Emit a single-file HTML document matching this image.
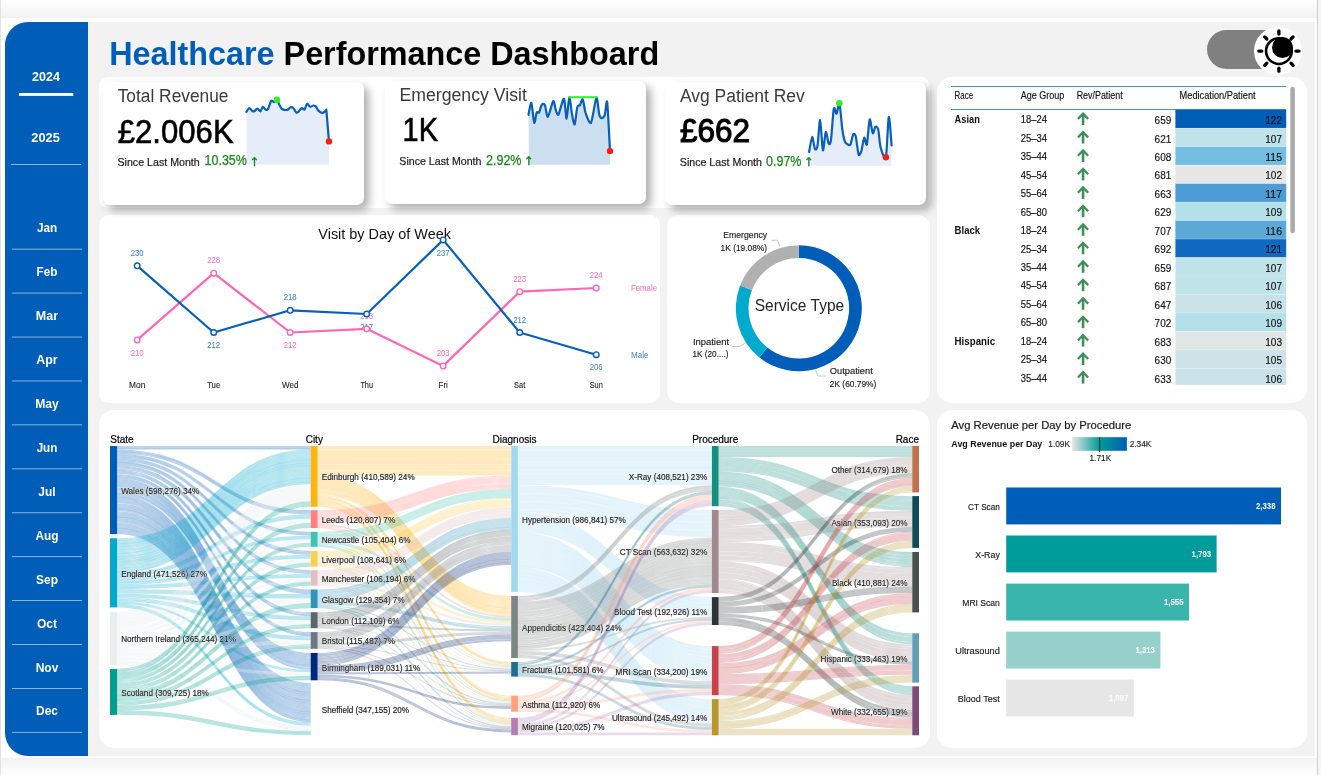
<!DOCTYPE html>
<html lang="en"><head><meta charset="utf-8"><title>Healthcare Performance Dashboard</title>
<style>
html,body{margin:0;padding:0;}
body{width:1321px;height:775px;overflow:hidden;position:relative;background:#fff;font-family:"Liberation Sans",sans-serif;}
.abs{position:absolute;}
#topband{left:0;top:0;width:1317px;height:18px;background:linear-gradient(#fefefe,#f2f2f2);}
#botband{left:0;top:757.8px;width:1317px;height:17.2px;background:linear-gradient(#f3f3f3,#fefefe);}
#leftline{left:0;top:0;width:1.3px;height:775px;background:#e2e2e2;}
#rightline{left:1317px;top:0;width:4px;height:775px;background:#f6f6f6;border-left:1.2px solid #cfcfcf;box-sizing:border-box;}
#canvas{left:4.6px;top:21.7px;width:1310.3px;height:734px;background:#f2f2f2;border-radius:23px 0 0 23px;}
#side{left:4.6px;top:21.7px;width:83.7px;height:734px;background:#005EB8;border-radius:23px 0 0 23px;}
.card{background:#fff;border-radius:15px;}
.kpi{background:#fff;border-radius:7px;box-shadow:5px 5px 9px rgba(0,0,0,.32);}
#pill{left:1207px;top:30px;width:80px;height:39px;border-radius:19.5px;background:#808080;}
#knob{left:1253.8px;top:27px;width:48px;height:48px;border-radius:24px;background:#fff;}
svg{position:absolute;left:0;top:0;}
text{font-family:"Liberation Sans",sans-serif;}
</style></head>
<body>

<div class="abs" id="topband"></div>
<div class="abs" id="botband"></div>
<div class="abs" id="leftline"></div>
<div class="abs" id="rightline"></div>
<div class="abs" id="canvas"></div>
<div class="abs" id="side"></div>
<div class="abs card" style="left:99.1px;top:76.8px;width:830.7px;height:131.2px;border-radius:9px;"></div>
<div class="abs card" style="left:99.1px;top:214.6px;width:561px;height:188.6px;border-radius:10px;"></div>
<div class="abs card" style="left:666.8px;top:214.6px;width:263.2px;height:188.6px;border-radius:12px;"></div>
<div class="abs card" style="left:99.1px;top:409.8px;width:830.9px;height:338px;"></div>
<div class="abs card" style="left:936.8px;top:76.8px;width:369.8px;height:326.4px;"></div>
<div class="abs card" style="left:936.8px;top:409.8px;width:369.8px;height:338px;"></div>
<div class="abs kpi" style="left:103px;top:81.8px;width:261px;height:123px;"></div>
<div class="abs kpi" style="left:385px;top:80.8px;width:261px;height:123px;"></div>
<div class="abs kpi" style="left:665px;top:81.6px;width:261.2px;height:123.2px;"></div>
<div class="abs" id="pill"></div>
<div class="abs" id="knob"></div>

<svg width="1321" height="775" viewBox="0 0 1321 775">
<text x="46" y="80.6" font-size="13" font-weight="700" text-anchor="middle" textLength="28" lengthAdjust="spacingAndGlyphs" fill="#fff">2024</text>
<rect x="19" y="93" width="54.3" height="2.9" fill="#fff"/>
<text x="45.6" y="141.6" font-size="13" font-weight="700" text-anchor="middle" textLength="28.5" lengthAdjust="spacingAndGlyphs" fill="#fff">2025</text>
<rect x="11" y="164.1" width="70" height="0.9" fill="#fff" opacity=".6"/>
<text x="47" y="232.4" font-size="13" font-weight="700" text-anchor="middle" textLength="20.2" lengthAdjust="spacingAndGlyphs" fill="#fff">Jan</text>
<rect x="12" y="248.7" width="70" height="0.9" fill="#fff" opacity=".6"/>
<text x="47" y="276.3" font-size="13" font-weight="700" text-anchor="middle" textLength="20.9" lengthAdjust="spacingAndGlyphs" fill="#fff">Feb</text>
<rect x="12" y="292.6" width="70" height="0.9" fill="#fff" opacity=".6"/>
<text x="47" y="320.2" font-size="13" font-weight="700" text-anchor="middle" textLength="22.3" lengthAdjust="spacingAndGlyphs" fill="#fff">Mar</text>
<rect x="12" y="336.6" width="70" height="0.9" fill="#fff" opacity=".6"/>
<text x="47" y="364.1" font-size="13" font-weight="700" text-anchor="middle" textLength="21.3" lengthAdjust="spacingAndGlyphs" fill="#fff">Apr</text>
<rect x="12" y="380.5" width="70" height="0.9" fill="#fff" opacity=".6"/>
<text x="47" y="408.0" font-size="13" font-weight="700" text-anchor="middle" textLength="23.6" lengthAdjust="spacingAndGlyphs" fill="#fff">May</text>
<rect x="12" y="424.4" width="70" height="0.9" fill="#fff" opacity=".6"/>
<text x="47" y="451.9" font-size="13" font-weight="700" text-anchor="middle" textLength="20.7" lengthAdjust="spacingAndGlyphs" fill="#fff">Jun</text>
<rect x="12" y="468.4" width="70" height="0.9" fill="#fff" opacity=".6"/>
<text x="47" y="495.9" font-size="13" font-weight="700" text-anchor="middle" textLength="17.3" lengthAdjust="spacingAndGlyphs" fill="#fff">Jul</text>
<rect x="12" y="512.3" width="70" height="0.9" fill="#fff" opacity=".6"/>
<text x="47" y="539.8" font-size="13" font-weight="700" text-anchor="middle" textLength="23" lengthAdjust="spacingAndGlyphs" fill="#fff">Aug</text>
<rect x="12" y="556.2" width="70" height="0.9" fill="#fff" opacity=".6"/>
<text x="47" y="583.7" font-size="13" font-weight="700" text-anchor="middle" textLength="21.9" lengthAdjust="spacingAndGlyphs" fill="#fff">Sep</text>
<rect x="12" y="600.1" width="70" height="0.9" fill="#fff" opacity=".6"/>
<text x="47" y="627.6" font-size="13" font-weight="700" text-anchor="middle" textLength="20" lengthAdjust="spacingAndGlyphs" fill="#fff">Oct</text>
<rect x="12" y="644.1" width="70" height="0.9" fill="#fff" opacity=".6"/>
<text x="47" y="671.5" font-size="13" font-weight="700" text-anchor="middle" textLength="22.6" lengthAdjust="spacingAndGlyphs" fill="#fff">Nov</text>
<rect x="12" y="688.0" width="70" height="0.9" fill="#fff" opacity=".6"/>
<text x="47" y="715.4" font-size="13" font-weight="700" text-anchor="middle" textLength="21.9" lengthAdjust="spacingAndGlyphs" fill="#fff">Dec</text>
<rect x="12" y="731.9" width="70" height="0.9" fill="#fff" opacity=".6"/>
<text x="109.2" y="64.7" font-size="33" font-weight="700" textLength="550" lengthAdjust="spacingAndGlyphs"><tspan fill="#005EB8">Healthcare</tspan><tspan fill="#000"> Performance Dashboard</tspan></text>
<g transform="translate(1278.9,51.1)"><circle r="12.85" fill="none" stroke="#000" stroke-width="2.6"/><circle cx="3.6" cy="-3.6" r="10.5" fill="#000"/><line x1="17.10" y1="0.00" x2="20.10" y2="0.00" stroke="#000" stroke-width="3.3" stroke-linecap="round"/><line x1="12.09" y1="12.09" x2="14.21" y2="14.21" stroke="#000" stroke-width="3.3" stroke-linecap="round"/><line x1="0.00" y1="17.10" x2="0.00" y2="20.10" stroke="#000" stroke-width="3.3" stroke-linecap="round"/><line x1="-12.09" y1="12.09" x2="-14.21" y2="14.21" stroke="#000" stroke-width="3.3" stroke-linecap="round"/><line x1="-17.10" y1="0.00" x2="-20.10" y2="0.00" stroke="#000" stroke-width="3.3" stroke-linecap="round"/><line x1="-12.09" y1="-12.09" x2="-14.21" y2="-14.21" stroke="#000" stroke-width="3.3" stroke-linecap="round"/><line x1="-0.00" y1="-17.10" x2="-0.00" y2="-20.10" stroke="#000" stroke-width="3.3" stroke-linecap="round"/><line x1="12.09" y1="-12.09" x2="14.21" y2="-14.21" stroke="#000" stroke-width="3.3" stroke-linecap="round"/></g>
<path d="M246.4,111.9C246.8,111.4 248.5,108.2 249.3,108.1C250.1,108.0 251.7,110.8 252.4,111.2C253.1,111.6 253.8,111.5 254.4,111.2C255.1,110.8 256.8,108.5 257.5,108.6C258.3,108.6 259.7,111.6 260.4,111.4C261.1,111.1 262.2,107.0 262.9,106.8C263.6,106.6 265.1,109.5 265.8,109.8C266.5,110.1 267.4,110.1 268.1,108.9C268.8,107.7 270.4,101.7 271.2,100.8C271.9,100.0 273.3,102.3 274.1,102.2C274.8,102.0 276.3,99.5 276.9,99.8C277.6,100.1 278.6,103.3 279.2,104.4C279.8,105.6 281.1,108.2 281.8,108.9C282.5,109.6 283.6,109.7 284.4,109.8C285.1,109.9 286.7,110.2 287.5,109.9C288.3,109.6 289.8,107.6 290.6,107.3C291.3,107.1 292.4,107.1 293.1,107.8C293.9,108.4 295.6,112.0 296.2,112.5C296.9,113.0 297.6,112.5 298.3,111.9C299.0,111.3 300.9,108.4 301.7,108.1C302.5,107.8 303.8,110.2 304.5,109.6C305.2,109.0 306.3,104.1 307.1,103.7C307.8,103.4 309.3,106.6 310.2,106.8C311.0,107.0 312.7,105.5 313.5,105.5C314.2,105.4 315.2,105.8 315.9,106.5C316.5,107.2 317.6,109.8 318.4,110.6C319.3,111.5 321.6,112.9 322.6,112.9C323.5,113.0 325.1,111.1 325.7,110.9C326.2,110.8 326.1,107.7 326.5,111.7C326.9,115.6 328.6,137.5 329.0,141.4L329.0,164.6L246.8,164.6Z" fill="#E5EDF8"/>
<path d="M246.4,111.9C246.8,111.4 248.5,108.2 249.3,108.1C250.1,108.0 251.7,110.8 252.4,111.2C253.1,111.6 253.8,111.5 254.4,111.2C255.1,110.8 256.8,108.5 257.5,108.6C258.3,108.6 259.7,111.6 260.4,111.4C261.1,111.1 262.2,107.0 262.9,106.8C263.6,106.6 265.1,109.5 265.8,109.8C266.5,110.1 267.4,110.1 268.1,108.9C268.8,107.7 270.4,101.7 271.2,100.8C271.9,100.0 273.3,102.3 274.1,102.2C274.8,102.0 276.3,99.5 276.9,99.8C277.6,100.1 278.6,103.3 279.2,104.4C279.8,105.6 281.1,108.2 281.8,108.9C282.5,109.6 283.6,109.7 284.4,109.8C285.1,109.9 286.7,110.2 287.5,109.9C288.3,109.6 289.8,107.6 290.6,107.3C291.3,107.1 292.4,107.1 293.1,107.8C293.9,108.4 295.6,112.0 296.2,112.5C296.9,113.0 297.6,112.5 298.3,111.9C299.0,111.3 300.9,108.4 301.7,108.1C302.5,107.8 303.8,110.2 304.5,109.6C305.2,109.0 306.3,104.1 307.1,103.7C307.8,103.4 309.3,106.6 310.2,106.8C311.0,107.0 312.7,105.5 313.5,105.5C314.2,105.4 315.2,105.8 315.9,106.5C316.5,107.2 317.6,109.8 318.4,110.6C319.3,111.5 321.6,112.9 322.6,112.9C323.5,113.0 325.1,111.1 325.7,110.9C326.2,110.8 326.1,107.7 326.5,111.7C326.9,115.6 328.6,137.5 329.0,141.4" fill="none" stroke="#075FB9" stroke-width="2.2" stroke-linejoin="round" stroke-linecap="round"/>
<circle cx="276.9" cy="99.8" r="3.2" fill="#33EE22"/>
<circle cx="329.0" cy="141.4" r="3.2" fill="#FF1A1A"/>
<path d="M528.5,114.8C528.8,113.2 530.6,101.9 531.4,102.9C532.1,103.9 533.5,121.6 534.2,122.8C534.9,124.1 536.1,113.8 536.7,112.5C537.3,111.2 538.4,113.5 539.1,112.5C539.7,111.5 540.9,106.0 541.7,105.0C542.4,103.9 544.0,103.1 544.8,104.7C545.6,106.2 546.8,117.3 547.9,116.8C549.0,116.4 552.2,101.9 553.2,101.1C554.3,100.4 555.4,109.4 556.1,111.2C556.8,112.9 557.7,115.5 558.4,114.8C559.1,114.0 560.5,107.5 561.3,105.5C562.0,103.4 563.5,97.4 564.2,99.1C564.9,100.8 566.0,118.9 566.6,118.7C567.3,118.5 568.6,97.9 569.3,97.4C570.0,96.9 571.4,111.3 572.1,114.8C572.8,118.3 574.0,125.4 574.7,124.4C575.4,123.4 576.6,109.5 577.3,107.0C577.9,104.5 579.1,106.3 579.9,105.3C580.6,104.3 582.0,98.3 582.7,99.3C583.5,100.3 584.5,109.6 585.5,112.7C586.6,115.8 589.6,124.8 591.0,122.8C592.4,120.9 595.3,98.8 596.4,97.7C597.4,96.7 598.6,111.9 599.3,114.6C600.0,117.2 601.0,118.0 601.7,118.1C602.5,118.1 604.1,116.8 604.8,114.8C605.5,112.7 606.5,97.7 607.2,102.4C607.9,107.1 609.6,144.8 610.0,151.1L610.0,164.8L529.0,164.8Z" fill="#CCDFF0"/>
<path d="M528.5,114.8C528.8,113.2 530.6,101.9 531.4,102.9C532.1,103.9 533.5,121.6 534.2,122.8C534.9,124.1 536.1,113.8 536.7,112.5C537.3,111.2 538.4,113.5 539.1,112.5C539.7,111.5 540.9,106.0 541.7,105.0C542.4,103.9 544.0,103.1 544.8,104.7C545.6,106.2 546.8,117.3 547.9,116.8C549.0,116.4 552.2,101.9 553.2,101.1C554.3,100.4 555.4,109.4 556.1,111.2C556.8,112.9 557.7,115.5 558.4,114.8C559.1,114.0 560.5,107.5 561.3,105.5C562.0,103.4 563.5,97.4 564.2,99.1C564.9,100.8 566.0,118.9 566.6,118.7C567.3,118.5 568.6,97.9 569.3,97.4C570.0,96.9 571.4,111.3 572.1,114.8C572.8,118.3 574.0,125.4 574.7,124.4C575.4,123.4 576.6,109.5 577.3,107.0C577.9,104.5 579.1,106.3 579.9,105.3C580.6,104.3 582.0,98.3 582.7,99.3C583.5,100.3 584.5,109.6 585.5,112.7C586.6,115.8 589.6,124.8 591.0,122.8C592.4,120.9 595.3,98.8 596.4,97.7C597.4,96.7 598.6,111.9 599.3,114.6C600.0,117.2 601.0,118.0 601.7,118.1C602.5,118.1 604.1,116.8 604.8,114.8C605.5,112.7 606.5,97.7 607.2,102.4C607.9,107.1 609.6,144.8 610.0,151.1" fill="none" stroke="#075FB9" stroke-width="2.2" stroke-linejoin="round" stroke-linecap="round"/>
<rect x="568.5" y="96.2" width="28.899999999999977" height="2" fill="#33EE33"/>
<circle cx="610.0" cy="151.1" r="3.2" fill="#FF1A1A"/>
<path d="M809.1,151.9C809.5,150.0 811.4,137.3 812.2,137.0C812.9,136.6 814.3,147.9 815.0,149.0C815.7,150.2 816.9,149.5 817.5,145.7C818.2,142.0 819.4,119.5 820.1,120.1C820.8,120.7 822.2,148.8 822.9,150.4C823.6,151.9 825.0,133.0 825.8,132.1C826.6,131.2 828.0,142.6 828.7,143.7C829.4,144.7 830.3,144.6 831.0,140.1C831.6,135.5 833.1,112.2 833.8,108.8C834.6,105.4 835.9,114.5 836.6,113.7C837.4,113.0 838.7,101.2 839.4,103.2C840.2,105.2 841.6,124.2 842.3,129.2C843.0,134.2 844.2,139.7 844.9,141.6C845.6,143.5 846.8,143.8 847.5,144.2C848.2,144.6 849.6,145.9 850.4,144.7C851.1,143.4 852.4,135.7 853.1,134.6C853.8,133.5 855.0,133.6 855.7,136.2C856.4,138.8 857.9,152.6 858.6,154.5C859.4,156.4 860.7,153.1 861.4,150.9C862.1,148.7 863.5,138.5 864.2,137.7C864.9,136.8 866.2,146.9 866.9,144.5C867.6,142.1 868.9,120.9 869.7,119.4C870.4,118.0 872.0,132.4 872.8,133.3C873.5,134.3 874.6,127.5 875.3,126.9C876.0,126.4 877.5,126.5 878.2,129.2C878.9,131.9 879.7,144.1 880.7,147.8C881.7,151.4 884.8,161.3 885.9,157.3C886.9,153.3 888.0,118.4 888.8,116.8C889.5,115.3 891.3,141.8 891.6,145.5L891.6,165.8L809.0,165.8Z" fill="#E5EDF8"/>
<path d="M809.1,151.9C809.5,150.0 811.4,137.3 812.2,137.0C812.9,136.6 814.3,147.9 815.0,149.0C815.7,150.2 816.9,149.5 817.5,145.7C818.2,142.0 819.4,119.5 820.1,120.1C820.8,120.7 822.2,148.8 822.9,150.4C823.6,151.9 825.0,133.0 825.8,132.1C826.6,131.2 828.0,142.6 828.7,143.7C829.4,144.7 830.3,144.6 831.0,140.1C831.6,135.5 833.1,112.2 833.8,108.8C834.6,105.4 835.9,114.5 836.6,113.7C837.4,113.0 838.7,101.2 839.4,103.2C840.2,105.2 841.6,124.2 842.3,129.2C843.0,134.2 844.2,139.7 844.9,141.6C845.6,143.5 846.8,143.8 847.5,144.2C848.2,144.6 849.6,145.9 850.4,144.7C851.1,143.4 852.4,135.7 853.1,134.6C853.8,133.5 855.0,133.6 855.7,136.2C856.4,138.8 857.9,152.6 858.6,154.5C859.4,156.4 860.7,153.1 861.4,150.9C862.1,148.7 863.5,138.5 864.2,137.7C864.9,136.8 866.2,146.9 866.9,144.5C867.6,142.1 868.9,120.9 869.7,119.4C870.4,118.0 872.0,132.4 872.8,133.3C873.5,134.3 874.6,127.5 875.3,126.9C876.0,126.4 877.5,126.5 878.2,129.2C878.9,131.9 879.7,144.1 880.7,147.8C881.7,151.4 884.8,161.3 885.9,157.3C886.9,153.3 888.0,118.4 888.8,116.8C889.5,115.3 891.3,141.8 891.6,145.5" fill="none" stroke="#075FB9" stroke-width="2.2" stroke-linejoin="round" stroke-linecap="round"/>
<circle cx="839.4" cy="103.2" r="3.2" fill="#33EE22"/>
<circle cx="885.9" cy="157.3" r="3.2" fill="#FF1A1A"/>
<text x="117.7" y="102.3" font-size="18" textLength="110.8" lengthAdjust="spacingAndGlyphs" fill="#3a3a3a">Total Revenue</text>
<text x="117.7" y="143.1" font-size="33.6" textLength="116" lengthAdjust="spacingAndGlyphs" fill="#000" stroke="#000" stroke-width="0.6">£2.006K</text>
<text x="117.5" y="165.6" font-size="11" textLength="82.2" lengthAdjust="spacingAndGlyphs" fill="#1a1a1a" stroke="#1a1a1a" stroke-width="0.2">Since Last Month</text>
<text x="204.5" y="165.4" font-size="14" textLength="42.4" lengthAdjust="spacingAndGlyphs" fill="#17891A" stroke="#17891A" stroke-width="0.25">10.35%</text>
<text x="254.2" y="165.6" font-size="12" text-anchor="middle" style="font-family:DejaVu Sans,sans-serif" fill="#17891A" stroke="#17891A" stroke-width="0.3">↑</text>
<text x="399.5" y="100.9" font-size="18" textLength="127.3" lengthAdjust="spacingAndGlyphs" fill="#3a3a3a">Emergency Visit</text>
<text x="402.6" y="141.3" font-size="33.6" textLength="35.4" lengthAdjust="spacingAndGlyphs" fill="#000" stroke="#000" stroke-width="0.6">1K</text>
<text x="399.3" y="165.4" font-size="11" textLength="82.2" lengthAdjust="spacingAndGlyphs" fill="#1a1a1a" stroke="#1a1a1a" stroke-width="0.2">Since Last Month</text>
<text x="486" y="165.20000000000002" font-size="14" textLength="35.5" lengthAdjust="spacingAndGlyphs" fill="#17891A" stroke="#17891A" stroke-width="0.25">2.92%</text>
<text x="528.6" y="165.4" font-size="12" text-anchor="middle" style="font-family:DejaVu Sans,sans-serif" fill="#17891A" stroke="#17891A" stroke-width="0.3">↑</text>
<text x="680" y="102" font-size="18" textLength="124.8" lengthAdjust="spacingAndGlyphs" fill="#3a3a3a">Avg Patient Rev</text>
<text x="680" y="142" font-size="33.6" textLength="70" lengthAdjust="spacingAndGlyphs" fill="#000" stroke="#000" stroke-width="1.1">£662</text>
<text x="679.8" y="165.8" font-size="11" textLength="82.2" lengthAdjust="spacingAndGlyphs" fill="#1a1a1a" stroke="#1a1a1a" stroke-width="0.2">Since Last Month</text>
<text x="766" y="165.60000000000002" font-size="14" textLength="35.5" lengthAdjust="spacingAndGlyphs" fill="#17891A" stroke="#17891A" stroke-width="0.25">0.97%</text>
<text x="808.6" y="165.8" font-size="12" text-anchor="middle" style="font-family:DejaVu Sans,sans-serif" fill="#17891A" stroke="#17891A" stroke-width="0.3">↑</text>
<text x="318.3" y="238.5" font-size="15" textLength="132.7" lengthAdjust="spacingAndGlyphs" fill="#111">Visit by Day of Week</text>
<text x="137.2" y="388.2" font-size="8.6" text-anchor="middle" textLength="16.2" lengthAdjust="spacingAndGlyphs" fill="#222" stroke="#222" stroke-width="0.1">Mon</text>
<text x="213.7" y="388.2" font-size="8.6" text-anchor="middle" textLength="13.1" lengthAdjust="spacingAndGlyphs" fill="#222" stroke="#222" stroke-width="0.1">Tue</text>
<text x="290.2" y="388.2" font-size="8.6" text-anchor="middle" textLength="16.5" lengthAdjust="spacingAndGlyphs" fill="#222" stroke="#222" stroke-width="0.1">Wed</text>
<text x="366.7" y="388.2" font-size="8.6" text-anchor="middle" textLength="12.6" lengthAdjust="spacingAndGlyphs" fill="#222" stroke="#222" stroke-width="0.1">Thu</text>
<text x="443.2" y="388.2" font-size="8.6" text-anchor="middle" textLength="9.3" lengthAdjust="spacingAndGlyphs" fill="#222" stroke="#222" stroke-width="0.1">Fri</text>
<text x="519.7" y="388.2" font-size="8.6" text-anchor="middle" textLength="11.2" lengthAdjust="spacingAndGlyphs" fill="#222" stroke="#222" stroke-width="0.1">Sat</text>
<text x="596.2" y="388.2" font-size="8.6" text-anchor="middle" textLength="13.1" lengthAdjust="spacingAndGlyphs" fill="#222" stroke="#222" stroke-width="0.1">Sun</text>
<text x="137.2" y="355.5" font-size="8.6" text-anchor="middle" textLength="13" lengthAdjust="spacingAndGlyphs" fill="#FF69B4">210</text>
<text x="213.7" y="262.9" font-size="8.6" text-anchor="middle" textLength="13" lengthAdjust="spacingAndGlyphs" fill="#FF69B4">228</text>
<text x="290.2" y="348.1" font-size="8.6" text-anchor="middle" textLength="13" lengthAdjust="spacingAndGlyphs" fill="#FF69B4">212</text>
<text x="366.7" y="318.5" font-size="8.6" text-anchor="middle" textLength="13" lengthAdjust="spacingAndGlyphs" fill="#FF69B4">213</text>
<text x="443.2" y="355.6" font-size="8.6" text-anchor="middle" textLength="13" lengthAdjust="spacingAndGlyphs" fill="#FF69B4">203</text>
<text x="519.7" y="282.4" font-size="8.6" text-anchor="middle" textLength="13" lengthAdjust="spacingAndGlyphs" fill="#FF69B4">223</text>
<text x="596.2" y="277.7" font-size="8.6" text-anchor="middle" textLength="13" lengthAdjust="spacingAndGlyphs" fill="#FF69B4">224</text>
<text x="137.2" y="255.5" font-size="8.6" text-anchor="middle" textLength="13" lengthAdjust="spacingAndGlyphs" fill="#3A7FCB">230</text>
<text x="213.7" y="348.1" font-size="8.6" text-anchor="middle" textLength="13" lengthAdjust="spacingAndGlyphs" fill="#3A7FCB">212</text>
<text x="290.2" y="300.0" font-size="8.6" text-anchor="middle" textLength="13" lengthAdjust="spacingAndGlyphs" fill="#3A7FCB">218</text>
<text x="366.7" y="329.6" font-size="8.6" text-anchor="middle" textLength="13" lengthAdjust="spacingAndGlyphs" fill="#3A7FCB">217</text>
<text x="443.2" y="255.5" font-size="8.6" text-anchor="middle" textLength="13" lengthAdjust="spacingAndGlyphs" fill="#3A7FCB">237</text>
<text x="519.7" y="323.2" font-size="8.6" text-anchor="middle" textLength="13" lengthAdjust="spacingAndGlyphs" fill="#3A7FCB">212</text>
<text x="596.2" y="370.3" font-size="8.6" text-anchor="middle" textLength="13" lengthAdjust="spacingAndGlyphs" fill="#3A7FCB">206</text>
<polyline points="137.2,339.9 213.7,273.2 290.2,332.5 366.7,328.8 443.2,365.9 519.7,291.7 596.2,288.0" fill="none" stroke="#FF66B3" stroke-width="2.2" stroke-linejoin="round"/>
<polyline points="137.2,265.8 213.7,332.5 290.2,310.3 366.7,314.0 443.2,239.9 519.7,332.5 596.2,354.7" fill="none" stroke="#075FB9" stroke-width="2.2" stroke-linejoin="round"/>
<circle cx="137.2" cy="339.9" r="2.8" fill="#fff" stroke="#FF66B3" stroke-width="1.4"/>
<circle cx="213.7" cy="273.2" r="2.8" fill="#fff" stroke="#FF66B3" stroke-width="1.4"/>
<circle cx="290.2" cy="332.5" r="2.8" fill="#fff" stroke="#FF66B3" stroke-width="1.4"/>
<circle cx="366.7" cy="328.8" r="2.8" fill="#fff" stroke="#FF66B3" stroke-width="1.4"/>
<circle cx="443.2" cy="365.9" r="2.8" fill="#fff" stroke="#FF66B3" stroke-width="1.4"/>
<circle cx="519.7" cy="291.7" r="2.8" fill="#fff" stroke="#FF66B3" stroke-width="1.4"/>
<circle cx="596.2" cy="288.0" r="2.8" fill="#fff" stroke="#FF66B3" stroke-width="1.4"/>
<circle cx="137.2" cy="265.8" r="2.8" fill="#fff" stroke="#075FB9" stroke-width="1.4"/>
<circle cx="213.7" cy="332.5" r="2.8" fill="#fff" stroke="#075FB9" stroke-width="1.4"/>
<circle cx="290.2" cy="310.3" r="2.8" fill="#fff" stroke="#075FB9" stroke-width="1.4"/>
<circle cx="366.7" cy="314.0" r="2.8" fill="#fff" stroke="#075FB9" stroke-width="1.4"/>
<circle cx="443.2" cy="239.9" r="2.8" fill="#fff" stroke="#075FB9" stroke-width="1.4"/>
<circle cx="519.7" cy="332.5" r="2.8" fill="#fff" stroke="#075FB9" stroke-width="1.4"/>
<circle cx="596.2" cy="354.7" r="2.8" fill="#fff" stroke="#075FB9" stroke-width="1.4"/>
<text x="631" y="291" font-size="8.6" textLength="26" lengthAdjust="spacingAndGlyphs" fill="#FF69B4">Female</text>
<text x="631" y="357.5" font-size="8.6" textLength="17.5" lengthAdjust="spacingAndGlyphs" fill="#3A7FCB">Male</text>
<path d="M798.80,245.30A63,63 0 1 1 759.29,357.37L767.25,347.48A50.3,50.3 0 1 0 798.80,258.00Z" fill="#005EB8"/>
<path d="M759.29,357.37A63,63 0 0 1 740.11,285.40L751.94,290.02A50.3,50.3 0 0 0 767.25,347.48Z" fill="#00A9CE"/>
<path d="M740.11,285.40A63,63 0 0 1 798.80,245.30L798.80,258.00A50.3,50.3 0 0 0 751.94,290.02Z" fill="#B0B0B0"/>
<text x="754.7" y="311.2" font-size="17" textLength="89.5" lengthAdjust="spacingAndGlyphs" fill="#252423">Service Type</text>
<text x="723.2" y="238" font-size="9" textLength="44" lengthAdjust="spacingAndGlyphs" fill="#1a1a1a" stroke="#1a1a1a" stroke-width="0.15">Emergency</text>
<text x="720.6" y="250.6" font-size="9" textLength="46.5" lengthAdjust="spacingAndGlyphs" fill="#1a1a1a" stroke="#1a1a1a" stroke-width="0.15">1K (19.08%)</text>
<text x="693" y="344.8" font-size="9" textLength="36" lengthAdjust="spacingAndGlyphs" fill="#1a1a1a" stroke="#1a1a1a" stroke-width="0.15">Inpatient</text>
<text x="692.5" y="356.7" font-size="9" textLength="36" lengthAdjust="spacingAndGlyphs" fill="#1a1a1a" stroke="#1a1a1a" stroke-width="0.15">1K (20....)</text>
<text x="829.8" y="374" font-size="9" textLength="43" lengthAdjust="spacingAndGlyphs" fill="#1a1a1a" stroke="#1a1a1a" stroke-width="0.15">Outpatient</text>
<text x="829.8" y="386.8" font-size="9" textLength="46.5" lengthAdjust="spacingAndGlyphs" fill="#1a1a1a" stroke="#1a1a1a" stroke-width="0.15">2K (60.79%)</text>
<polyline points="771.5,240.3 777.5,240.3 780,246.5" fill="none" stroke="#c8c8c8" stroke-width="1"/>
<polyline points="732,346.5 739.5,346.5 744.5,343.5" fill="none" stroke="#c8c8c8" stroke-width="1"/>
<polyline points="815.5,370 818,376 826,376" fill="none" stroke="#c8c8c8" stroke-width="1"/>
<rect x="951" y="86" width="335" height="1" fill="#4A90D9"/>
<rect x="951" y="109" width="335" height="1" fill="#4A90D9"/>
<text x="954.6" y="99.2" font-size="10.2" textLength="18.5" lengthAdjust="spacingAndGlyphs" fill="#111" stroke="#111" stroke-width="0.15">Race</text>
<text x="1020.8" y="99.2" font-size="10.2" textLength="43.5" lengthAdjust="spacingAndGlyphs" fill="#111" stroke="#111" stroke-width="0.15">Age Group</text>
<text x="1076.7" y="99.2" font-size="10.2" textLength="46" lengthAdjust="spacingAndGlyphs" fill="#111" stroke="#111" stroke-width="0.15">Rev/Patient</text>
<text x="1179.6" y="99.2" font-size="10.2" textLength="76" lengthAdjust="spacingAndGlyphs" fill="#111" stroke="#111" stroke-width="0.15">Medication/Patient</text>
<rect x="1175.4" y="109.70" width="110.8" height="18.50" fill="#005EB8"/>
<text x="954.6" y="123.2" font-size="10.6" font-weight="700" textLength="25.2" lengthAdjust="spacingAndGlyphs" fill="#111">Asian</text>
<text x="1020.8" y="123.2" font-size="10.5" textLength="26.2" lengthAdjust="spacingAndGlyphs" fill="#111" stroke="#111" stroke-width="0.15">18–24</text>
<g transform="translate(1083.05,112.0)" fill="none" stroke="#3F8F59"><path d="M-5.1,6.9 L0,1.6 L5.1,6.9" stroke-width="2.3"/><path d="M0,2.2 L0,13" stroke-width="2.6"/></g>
<text x="1171.3" y="124.0" font-size="10.6" text-anchor="end" textLength="16.7" lengthAdjust="spacingAndGlyphs" fill="#111" stroke="#111" stroke-width="0.15">659</text>
<text x="1282" y="124.0" font-size="10.6" text-anchor="end" textLength="16.7" lengthAdjust="spacingAndGlyphs" fill="#111" stroke="#111" stroke-width="0.15">122</text>
<rect x="1175.4" y="128.20" width="110.8" height="18.47" fill="#C0E2E9"/>
<rect x="1175.4" y="127.80" width="110.8" height="0.8" fill="#fff" opacity=".3"/>
<text x="1020.8" y="141.7" font-size="10.5" textLength="26.2" lengthAdjust="spacingAndGlyphs" fill="#111" stroke="#111" stroke-width="0.15">25–34</text>
<g transform="translate(1083.05,130.5)" fill="none" stroke="#3F8F59"><path d="M-5.1,6.9 L0,1.6 L5.1,6.9" stroke-width="2.3"/><path d="M0,2.2 L0,13" stroke-width="2.6"/></g>
<text x="1171.3" y="142.5" font-size="10.6" text-anchor="end" textLength="16.7" lengthAdjust="spacingAndGlyphs" fill="#111" stroke="#111" stroke-width="0.15">621</text>
<text x="1282" y="142.5" font-size="10.6" text-anchor="end" textLength="16.7" lengthAdjust="spacingAndGlyphs" fill="#111" stroke="#111" stroke-width="0.15">107</text>
<rect x="1175.4" y="146.67" width="110.8" height="18.47" fill="#73BEE0"/>
<rect x="1175.4" y="146.27" width="110.8" height="0.8" fill="#fff" opacity=".3"/>
<text x="1020.8" y="160.1" font-size="10.5" textLength="26.2" lengthAdjust="spacingAndGlyphs" fill="#111" stroke="#111" stroke-width="0.15">35–44</text>
<g transform="translate(1083.05,148.9)" fill="none" stroke="#3F8F59"><path d="M-5.1,6.9 L0,1.6 L5.1,6.9" stroke-width="2.3"/><path d="M0,2.2 L0,13" stroke-width="2.6"/></g>
<text x="1171.3" y="160.9" font-size="10.6" text-anchor="end" textLength="16.7" lengthAdjust="spacingAndGlyphs" fill="#111" stroke="#111" stroke-width="0.15">608</text>
<text x="1282" y="160.9" font-size="10.6" text-anchor="end" textLength="16.7" lengthAdjust="spacingAndGlyphs" fill="#111" stroke="#111" stroke-width="0.15">115</text>
<rect x="1175.4" y="165.14" width="110.8" height="18.47" fill="#E6E6E6"/>
<rect x="1175.4" y="164.74" width="110.8" height="0.8" fill="#fff" opacity=".3"/>
<text x="1020.8" y="178.6" font-size="10.5" textLength="26.2" lengthAdjust="spacingAndGlyphs" fill="#111" stroke="#111" stroke-width="0.15">45–54</text>
<g transform="translate(1083.05,167.4)" fill="none" stroke="#3F8F59"><path d="M-5.1,6.9 L0,1.6 L5.1,6.9" stroke-width="2.3"/><path d="M0,2.2 L0,13" stroke-width="2.6"/></g>
<text x="1171.3" y="179.4" font-size="10.6" text-anchor="end" textLength="16.7" lengthAdjust="spacingAndGlyphs" fill="#111" stroke="#111" stroke-width="0.15">681</text>
<text x="1282" y="179.4" font-size="10.6" text-anchor="end" textLength="16.7" lengthAdjust="spacingAndGlyphs" fill="#111" stroke="#111" stroke-width="0.15">102</text>
<rect x="1175.4" y="183.61" width="110.8" height="18.47" fill="#4C9BD5"/>
<rect x="1175.4" y="183.21" width="110.8" height="0.8" fill="#fff" opacity=".3"/>
<text x="1020.8" y="197.1" font-size="10.5" textLength="26.2" lengthAdjust="spacingAndGlyphs" fill="#111" stroke="#111" stroke-width="0.15">55–64</text>
<g transform="translate(1083.05,185.9)" fill="none" stroke="#3F8F59"><path d="M-5.1,6.9 L0,1.6 L5.1,6.9" stroke-width="2.3"/><path d="M0,2.2 L0,13" stroke-width="2.6"/></g>
<text x="1171.3" y="197.9" font-size="10.6" text-anchor="end" textLength="16.7" lengthAdjust="spacingAndGlyphs" fill="#111" stroke="#111" stroke-width="0.15">663</text>
<text x="1282" y="197.9" font-size="10.6" text-anchor="end" textLength="16.7" lengthAdjust="spacingAndGlyphs" fill="#111" stroke="#111" stroke-width="0.15">117</text>
<rect x="1175.4" y="202.08" width="110.8" height="18.47" fill="#B4E0E9"/>
<rect x="1175.4" y="201.68" width="110.8" height="0.8" fill="#fff" opacity=".3"/>
<text x="1020.8" y="215.6" font-size="10.5" textLength="26.2" lengthAdjust="spacingAndGlyphs" fill="#111" stroke="#111" stroke-width="0.15">65–80</text>
<g transform="translate(1083.05,204.3)" fill="none" stroke="#3F8F59"><path d="M-5.1,6.9 L0,1.6 L5.1,6.9" stroke-width="2.3"/><path d="M0,2.2 L0,13" stroke-width="2.6"/></g>
<text x="1171.3" y="216.4" font-size="10.6" text-anchor="end" textLength="16.7" lengthAdjust="spacingAndGlyphs" fill="#111" stroke="#111" stroke-width="0.15">629</text>
<text x="1282" y="216.4" font-size="10.6" text-anchor="end" textLength="16.7" lengthAdjust="spacingAndGlyphs" fill="#111" stroke="#111" stroke-width="0.15">109</text>
<rect x="1175.4" y="220.55" width="110.8" height="18.47" fill="#5CA9D8"/>
<rect x="1175.4" y="220.15" width="110.8" height="0.8" fill="#fff" opacity=".3"/>
<text x="954.6" y="234.0" font-size="10.6" font-weight="700" textLength="25.5" lengthAdjust="spacingAndGlyphs" fill="#111">Black</text>
<text x="1020.8" y="234.0" font-size="10.5" textLength="26.2" lengthAdjust="spacingAndGlyphs" fill="#111" stroke="#111" stroke-width="0.15">18–24</text>
<g transform="translate(1083.05,222.8)" fill="none" stroke="#3F8F59"><path d="M-5.1,6.9 L0,1.6 L5.1,6.9" stroke-width="2.3"/><path d="M0,2.2 L0,13" stroke-width="2.6"/></g>
<text x="1171.3" y="234.8" font-size="10.6" text-anchor="end" textLength="16.7" lengthAdjust="spacingAndGlyphs" fill="#111" stroke="#111" stroke-width="0.15">707</text>
<text x="1282" y="234.8" font-size="10.6" text-anchor="end" textLength="16.7" lengthAdjust="spacingAndGlyphs" fill="#111" stroke="#111" stroke-width="0.15">116</text>
<rect x="1175.4" y="239.02" width="110.8" height="18.47" fill="#1068C0"/>
<rect x="1175.4" y="238.62" width="110.8" height="0.8" fill="#fff" opacity=".3"/>
<text x="1020.8" y="252.5" font-size="10.5" textLength="26.2" lengthAdjust="spacingAndGlyphs" fill="#111" stroke="#111" stroke-width="0.15">25–34</text>
<g transform="translate(1083.05,241.3)" fill="none" stroke="#3F8F59"><path d="M-5.1,6.9 L0,1.6 L5.1,6.9" stroke-width="2.3"/><path d="M0,2.2 L0,13" stroke-width="2.6"/></g>
<text x="1171.3" y="253.3" font-size="10.6" text-anchor="end" textLength="16.7" lengthAdjust="spacingAndGlyphs" fill="#111" stroke="#111" stroke-width="0.15">692</text>
<text x="1282" y="253.3" font-size="10.6" text-anchor="end" textLength="16.7" lengthAdjust="spacingAndGlyphs" fill="#111" stroke="#111" stroke-width="0.15">121</text>
<rect x="1175.4" y="257.49" width="110.8" height="18.47" fill="#C0E2E9"/>
<rect x="1175.4" y="257.09" width="110.8" height="0.8" fill="#fff" opacity=".3"/>
<text x="1020.8" y="271.0" font-size="10.5" textLength="26.2" lengthAdjust="spacingAndGlyphs" fill="#111" stroke="#111" stroke-width="0.15">35–44</text>
<g transform="translate(1083.05,259.8)" fill="none" stroke="#3F8F59"><path d="M-5.1,6.9 L0,1.6 L5.1,6.9" stroke-width="2.3"/><path d="M0,2.2 L0,13" stroke-width="2.6"/></g>
<text x="1171.3" y="271.8" font-size="10.6" text-anchor="end" textLength="16.7" lengthAdjust="spacingAndGlyphs" fill="#111" stroke="#111" stroke-width="0.15">659</text>
<text x="1282" y="271.8" font-size="10.6" text-anchor="end" textLength="16.7" lengthAdjust="spacingAndGlyphs" fill="#111" stroke="#111" stroke-width="0.15">107</text>
<rect x="1175.4" y="275.96" width="110.8" height="18.47" fill="#C0E2E9"/>
<rect x="1175.4" y="275.56" width="110.8" height="0.8" fill="#fff" opacity=".3"/>
<text x="1020.8" y="289.4" font-size="10.5" textLength="26.2" lengthAdjust="spacingAndGlyphs" fill="#111" stroke="#111" stroke-width="0.15">45–54</text>
<g transform="translate(1083.05,278.2)" fill="none" stroke="#3F8F59"><path d="M-5.1,6.9 L0,1.6 L5.1,6.9" stroke-width="2.3"/><path d="M0,2.2 L0,13" stroke-width="2.6"/></g>
<text x="1171.3" y="290.2" font-size="10.6" text-anchor="end" textLength="16.7" lengthAdjust="spacingAndGlyphs" fill="#111" stroke="#111" stroke-width="0.15">687</text>
<text x="1282" y="290.2" font-size="10.6" text-anchor="end" textLength="16.7" lengthAdjust="spacingAndGlyphs" fill="#111" stroke="#111" stroke-width="0.15">107</text>
<rect x="1175.4" y="294.43" width="110.8" height="18.47" fill="#C8E2E8"/>
<rect x="1175.4" y="294.03" width="110.8" height="0.8" fill="#fff" opacity=".3"/>
<text x="1020.8" y="307.9" font-size="10.5" textLength="26.2" lengthAdjust="spacingAndGlyphs" fill="#111" stroke="#111" stroke-width="0.15">55–64</text>
<g transform="translate(1083.05,296.7)" fill="none" stroke="#3F8F59"><path d="M-5.1,6.9 L0,1.6 L5.1,6.9" stroke-width="2.3"/><path d="M0,2.2 L0,13" stroke-width="2.6"/></g>
<text x="1171.3" y="308.7" font-size="10.6" text-anchor="end" textLength="16.7" lengthAdjust="spacingAndGlyphs" fill="#111" stroke="#111" stroke-width="0.15">647</text>
<text x="1282" y="308.7" font-size="10.6" text-anchor="end" textLength="16.7" lengthAdjust="spacingAndGlyphs" fill="#111" stroke="#111" stroke-width="0.15">106</text>
<rect x="1175.4" y="312.90" width="110.8" height="18.47" fill="#B4E0E9"/>
<rect x="1175.4" y="312.50" width="110.8" height="0.8" fill="#fff" opacity=".3"/>
<text x="1020.8" y="326.4" font-size="10.5" textLength="26.2" lengthAdjust="spacingAndGlyphs" fill="#111" stroke="#111" stroke-width="0.15">65–80</text>
<g transform="translate(1083.05,315.2)" fill="none" stroke="#3F8F59"><path d="M-5.1,6.9 L0,1.6 L5.1,6.9" stroke-width="2.3"/><path d="M0,2.2 L0,13" stroke-width="2.6"/></g>
<text x="1171.3" y="327.2" font-size="10.6" text-anchor="end" textLength="16.7" lengthAdjust="spacingAndGlyphs" fill="#111" stroke="#111" stroke-width="0.15">702</text>
<text x="1282" y="327.2" font-size="10.6" text-anchor="end" textLength="16.7" lengthAdjust="spacingAndGlyphs" fill="#111" stroke="#111" stroke-width="0.15">109</text>
<rect x="1175.4" y="331.37" width="110.8" height="18.47" fill="#E0E5E6"/>
<rect x="1175.4" y="330.97" width="110.8" height="0.8" fill="#fff" opacity=".3"/>
<text x="954.6" y="344.8" font-size="10.6" font-weight="700" textLength="40.5" lengthAdjust="spacingAndGlyphs" fill="#111">Hispanic</text>
<text x="1020.8" y="344.8" font-size="10.5" textLength="26.2" lengthAdjust="spacingAndGlyphs" fill="#111" stroke="#111" stroke-width="0.15">18–24</text>
<g transform="translate(1083.05,333.6)" fill="none" stroke="#3F8F59"><path d="M-5.1,6.9 L0,1.6 L5.1,6.9" stroke-width="2.3"/><path d="M0,2.2 L0,13" stroke-width="2.6"/></g>
<text x="1171.3" y="345.6" font-size="10.6" text-anchor="end" textLength="16.7" lengthAdjust="spacingAndGlyphs" fill="#111" stroke="#111" stroke-width="0.15">683</text>
<text x="1282" y="345.6" font-size="10.6" text-anchor="end" textLength="16.7" lengthAdjust="spacingAndGlyphs" fill="#111" stroke="#111" stroke-width="0.15">103</text>
<rect x="1175.4" y="349.84" width="110.8" height="18.47" fill="#CEE3E7"/>
<rect x="1175.4" y="349.44" width="110.8" height="0.8" fill="#fff" opacity=".3"/>
<text x="1020.8" y="363.3" font-size="10.5" textLength="26.2" lengthAdjust="spacingAndGlyphs" fill="#111" stroke="#111" stroke-width="0.15">25–34</text>
<g transform="translate(1083.05,352.1)" fill="none" stroke="#3F8F59"><path d="M-5.1,6.9 L0,1.6 L5.1,6.9" stroke-width="2.3"/><path d="M0,2.2 L0,13" stroke-width="2.6"/></g>
<text x="1171.3" y="364.1" font-size="10.6" text-anchor="end" textLength="16.7" lengthAdjust="spacingAndGlyphs" fill="#111" stroke="#111" stroke-width="0.15">630</text>
<text x="1282" y="364.1" font-size="10.6" text-anchor="end" textLength="16.7" lengthAdjust="spacingAndGlyphs" fill="#111" stroke="#111" stroke-width="0.15">105</text>
<rect x="1175.4" y="368.31" width="110.8" height="16.49" fill="#C8E2E8"/>
<rect x="1175.4" y="367.91" width="110.8" height="0.8" fill="#fff" opacity=".3"/>
<text x="1020.8" y="381.8" font-size="10.5" textLength="26.2" lengthAdjust="spacingAndGlyphs" fill="#111" stroke="#111" stroke-width="0.15">35–44</text>
<g transform="translate(1083.05,370.6)" fill="none" stroke="#3F8F59"><path d="M-5.1,6.9 L0,1.6 L5.1,6.9" stroke-width="2.3"/><path d="M0,2.2 L0,13" stroke-width="2.6"/></g>
<text x="1171.3" y="382.6" font-size="10.6" text-anchor="end" textLength="16.7" lengthAdjust="spacingAndGlyphs" fill="#111" stroke="#111" stroke-width="0.15">633</text>
<text x="1282" y="382.6" font-size="10.6" text-anchor="end" textLength="16.7" lengthAdjust="spacingAndGlyphs" fill="#111" stroke="#111" stroke-width="0.15">106</text>
<rect x="1290.3" y="86.8" width="4.6" height="146.4" rx="2.3" fill="#ABABAB"/>
<defs><linearGradient id="lg" x1="0" x2="1" y1="0" y2="0"><stop offset="0" stop-color="#E6E6E6"/><stop offset="0.5" stop-color="#009B96"/><stop offset="1" stop-color="#005EB8"/></linearGradient></defs>
<text x="951.3" y="428.7" font-size="11.3" textLength="180" lengthAdjust="spacingAndGlyphs" fill="#1a1a1a" stroke="#1a1a1a" stroke-width="0.2">Avg Revenue per Day by Procedure</text>
<text x="951.3" y="447" font-size="9.3" font-weight="700" textLength="91" lengthAdjust="spacingAndGlyphs" fill="#111">Avg Revenue per Day</text>
<text x="1048.3" y="447" font-size="9.3" textLength="21.7" lengthAdjust="spacingAndGlyphs" fill="#1a1a1a" stroke="#1a1a1a" stroke-width="0.15">1.09K</text>
<rect x="1072.1" y="437.2" width="54.8" height="13.6" fill="url(#lg)"/>
<rect x="1099.2" y="437.2" width="0.9" height="14.8" fill="#111"/>
<text x="1129.7" y="447" font-size="9.3" textLength="21.7" lengthAdjust="spacingAndGlyphs" fill="#1a1a1a" stroke="#1a1a1a" stroke-width="0.15">2.34K</text>
<text x="1089.5" y="460.8" font-size="9.3" textLength="21.7" lengthAdjust="spacingAndGlyphs" fill="#1a1a1a" stroke="#1a1a1a" stroke-width="0.15">1.71K</text>
<rect x="1006.2" y="487.5" width="274.8" height="36.9" fill="#005EB8"/>
<text x="999.8" y="510.0" font-size="9.3" text-anchor="end" textLength="31.7" lengthAdjust="spacingAndGlyphs" fill="#1a1a1a" stroke="#1a1a1a" stroke-width="0.15">CT Scan</text>
<text x="1275.5" y="508.7" font-size="8.2" font-weight="700" text-anchor="end" textLength="19.5" lengthAdjust="spacingAndGlyphs" fill="#fff">2,338</text>
<rect x="1006.2" y="535.5" width="210.4" height="36.9" fill="#009B9B"/>
<text x="999.8" y="558.0" font-size="9.3" text-anchor="end" textLength="24.5" lengthAdjust="spacingAndGlyphs" fill="#1a1a1a" stroke="#1a1a1a" stroke-width="0.15">X-Ray</text>
<text x="1211.1" y="556.7" font-size="8.2" font-weight="700" text-anchor="end" textLength="19.5" lengthAdjust="spacingAndGlyphs" fill="#fff">1,793</text>
<rect x="1006.2" y="583.6" width="182.8" height="36.9" fill="#3AB5AB"/>
<text x="999.8" y="606.1" font-size="9.3" text-anchor="end" textLength="37.5" lengthAdjust="spacingAndGlyphs" fill="#1a1a1a" stroke="#1a1a1a" stroke-width="0.15">MRI Scan</text>
<text x="1183.5" y="604.8" font-size="8.2" font-weight="700" text-anchor="end" textLength="19.5" lengthAdjust="spacingAndGlyphs" fill="#fff">1,555</text>
<rect x="1006.2" y="631.6" width="154.2" height="36.9" fill="#96D0CA"/>
<text x="999.8" y="654.1" font-size="9.3" text-anchor="end" textLength="44.5" lengthAdjust="spacingAndGlyphs" fill="#1a1a1a" stroke="#1a1a1a" stroke-width="0.15">Ultrasound</text>
<text x="1154.9" y="652.8" font-size="8.2" font-weight="700" text-anchor="end" textLength="19.5" lengthAdjust="spacingAndGlyphs" fill="#fff">1,313</text>
<rect x="1006.2" y="679.6" width="127.6" height="36.9" fill="#E6E6E6"/>
<text x="999.8" y="702.1" font-size="9.3" text-anchor="end" textLength="42" lengthAdjust="spacingAndGlyphs" fill="#1a1a1a" stroke="#1a1a1a" stroke-width="0.15">Blood Test</text>
<text x="1128.3" y="700.8" font-size="8.2" font-weight="700" text-anchor="end" textLength="19.5" lengthAdjust="spacingAndGlyphs" fill="#fbfbfb">1,087</text>
<g fill="none">
<g stroke="#005EB8" stroke-opacity="0.28" stroke-width="1.17"><path d="M117.1 446.6H310.7"/><path d="M117.1 447.8H310.7"/><path d="M117.1 448.9H310.7"/></g>
<g stroke="#005EB8" stroke-opacity="0.28" stroke-width="1.05"><path d="M117.1 450.0C213.9 450.0 213.9 510.7 310.7 510.7"/><path d="M117.1 451.1C213.9 451.1 213.9 511.8 310.7 511.8"/><path d="M117.1 452.1C213.9 452.1 213.9 512.8 310.7 512.8"/><path d="M117.1 453.2C213.9 453.2 213.9 513.9 310.7 513.9"/></g>
<g stroke="#005EB8" stroke-opacity="0.28" stroke-width="1.23"><path d="M117.1 454.3C213.9 454.3 213.9 532.4 310.7 532.4"/><path d="M117.1 455.6C213.9 455.6 213.9 533.6 310.7 533.6"/><path d="M117.1 456.8C213.9 456.8 213.9 534.9 310.7 534.9"/></g>
<g stroke="#005EB8" stroke-opacity="0.28" stroke-width="1.3"><path d="M117.1 458.1C213.9 458.1 213.9 551.5 310.7 551.5"/><path d="M117.1 459.4C213.9 459.4 213.9 552.8 310.7 552.8"/><path d="M117.1 460.7C213.9 460.7 213.9 554.1 310.7 554.1"/></g>
<g stroke="#005EB8" stroke-opacity="0.28" stroke-width="1.27"><path d="M117.1 462.0C213.9 462.0 213.9 570.8 310.7 570.8"/><path d="M117.1 463.2C213.9 463.2 213.9 572.1 310.7 572.1"/><path d="M117.1 464.5C213.9 464.5 213.9 573.4 310.7 573.4"/></g>
<g stroke="#005EB8" stroke-opacity="0.28" stroke-width="1.15"><path d="M117.1 465.7C213.9 465.7 213.9 590.1 310.7 590.1"/><path d="M117.1 466.9C213.9 466.9 213.9 591.2 310.7 591.2"/><path d="M117.1 468.0C213.9 468.0 213.9 592.4 310.7 592.4"/><path d="M117.1 469.2C213.9 469.2 213.9 593.5 310.7 593.5"/><path d="M117.1 495.6C213.9 495.6 213.9 683.7 310.7 683.7"/><path d="M117.1 496.8C213.9 496.8 213.9 684.9 310.7 684.9"/><path d="M117.1 497.9C213.9 497.9 213.9 686.0 310.7 686.0"/><path d="M117.1 499.1C213.9 499.1 213.9 687.2 310.7 687.2"/><path d="M117.1 500.2C213.9 500.2 213.9 688.3 310.7 688.3"/><path d="M117.1 501.4C213.9 501.4 213.9 689.5 310.7 689.5"/><path d="M117.1 502.5C213.9 502.5 213.9 690.6 310.7 690.6"/><path d="M117.1 503.7C213.9 503.7 213.9 691.8 310.7 691.8"/><path d="M117.1 504.8C213.9 504.8 213.9 692.9 310.7 692.9"/><path d="M117.1 506.0C213.9 506.0 213.9 694.1 310.7 694.1"/><path d="M117.1 507.1C213.9 507.1 213.9 695.2 310.7 695.2"/><path d="M117.1 508.3C213.9 508.3 213.9 696.4 310.7 696.4"/><path d="M117.1 509.4C213.9 509.4 213.9 697.5 310.7 697.5"/><path d="M117.1 510.5C213.9 510.5 213.9 698.7 310.7 698.7"/><path d="M117.1 511.7C213.9 511.7 213.9 699.8 310.7 699.8"/><path d="M117.1 512.8C213.9 512.8 213.9 700.9 310.7 700.9"/><path d="M117.1 514.0C213.9 514.0 213.9 702.1 310.7 702.1"/><path d="M117.1 515.1C213.9 515.1 213.9 703.2 310.7 703.2"/><path d="M117.1 516.3C213.9 516.3 213.9 704.4 310.7 704.4"/><path d="M117.1 517.4C213.9 517.4 213.9 705.5 310.7 705.5"/><path d="M117.1 518.6C213.9 518.6 213.9 706.7 310.7 706.7"/><path d="M117.1 519.7C213.9 519.7 213.9 707.8 310.7 707.8"/><path d="M117.1 520.9C213.9 520.9 213.9 709.0 310.7 709.0"/><path d="M117.1 522.0C213.9 522.0 213.9 710.1 310.7 710.1"/><path d="M117.1 523.2C213.9 523.2 213.9 711.3 310.7 711.3"/><path d="M117.1 524.3C213.9 524.3 213.9 712.4 310.7 712.4"/><path d="M117.1 525.5C213.9 525.5 213.9 713.6 310.7 713.6"/><path d="M117.1 526.6C213.9 526.6 213.9 714.7 310.7 714.7"/><path d="M117.1 527.8C213.9 527.8 213.9 715.9 310.7 715.9"/><path d="M117.1 528.9C213.9 528.9 213.9 717.0 310.7 717.0"/><path d="M117.1 530.1C213.9 530.1 213.9 718.2 310.7 718.2"/><path d="M117.1 531.2C213.9 531.2 213.9 719.3 310.7 719.3"/><path d="M117.1 532.3C213.9 532.3 213.9 720.5 310.7 720.5"/><path d="M117.1 533.5C213.9 533.5 213.9 721.6 310.7 721.6"/></g>
<g stroke="#005EB8" stroke-opacity="0.28" stroke-width="1.02"><path d="M117.1 470.3C213.9 470.3 213.9 612.7 310.7 612.7"/><path d="M117.1 471.3C213.9 471.3 213.9 613.7 310.7 613.7"/><path d="M117.1 472.3C213.9 472.3 213.9 614.8 310.7 614.8"/><path d="M117.1 473.3C213.9 473.3 213.9 615.8 310.7 615.8"/></g>
<g stroke="#005EB8" stroke-opacity="0.28" stroke-width="1.04"><path d="M117.1 474.4C213.9 474.4 213.9 632.6 310.7 632.6"/><path d="M117.1 475.4C213.9 475.4 213.9 633.7 310.7 633.7"/><path d="M117.1 476.5C213.9 476.5 213.9 634.7 310.7 634.7"/><path d="M117.1 477.5C213.9 477.5 213.9 635.7 310.7 635.7"/></g>
<g stroke="#005EB8" stroke-opacity="0.28" stroke-width="1.13"><path d="M117.1 478.6C213.9 478.6 213.9 653.5 310.7 653.5"/><path d="M117.1 479.7C213.9 479.7 213.9 654.6 310.7 654.6"/><path d="M117.1 480.9C213.9 480.9 213.9 655.7 310.7 655.7"/><path d="M117.1 482.0C213.9 482.0 213.9 656.8 310.7 656.8"/><path d="M117.1 483.1C213.9 483.1 213.9 658.0 310.7 658.0"/><path d="M117.1 484.3C213.9 484.3 213.9 659.1 310.7 659.1"/><path d="M117.1 485.4C213.9 485.4 213.9 660.2 310.7 660.2"/><path d="M117.1 486.5C213.9 486.5 213.9 661.4 310.7 661.4"/><path d="M117.1 487.7C213.9 487.7 213.9 662.5 310.7 662.5"/><path d="M117.1 488.8C213.9 488.8 213.9 663.6 310.7 663.6"/><path d="M117.1 489.9C213.9 489.9 213.9 664.8 310.7 664.8"/><path d="M117.1 491.0C213.9 491.0 213.9 665.9 310.7 665.9"/><path d="M117.1 492.2C213.9 492.2 213.9 667.0 310.7 667.0"/><path d="M117.1 493.3C213.9 493.3 213.9 668.2 310.7 668.2"/><path d="M117.1 494.4C213.9 494.4 213.9 669.3 310.7 669.3"/></g>
<g stroke="#00AACC" stroke-opacity="0.28" stroke-width="1.16"><path d="M117.1 538.9C213.9 538.9 213.9 450.0 310.7 450.0"/><path d="M117.1 540.1C213.9 540.1 213.9 451.2 310.7 451.2"/><path d="M117.1 541.2C213.9 541.2 213.9 452.4 310.7 452.4"/><path d="M117.1 542.4C213.9 542.4 213.9 453.5 310.7 453.5"/><path d="M117.1 543.5C213.9 543.5 213.9 454.7 310.7 454.7"/><path d="M117.1 544.7C213.9 544.7 213.9 455.8 310.7 455.8"/><path d="M117.1 545.8C213.9 545.8 213.9 457.0 310.7 457.0"/><path d="M117.1 547.0C213.9 547.0 213.9 458.1 310.7 458.1"/><path d="M117.1 548.2C213.9 548.2 213.9 459.3 310.7 459.3"/><path d="M117.1 549.3C213.9 549.3 213.9 460.4 310.7 460.4"/><path d="M117.1 550.5C213.9 550.5 213.9 461.6 310.7 461.6"/><path d="M117.1 551.6C213.9 551.6 213.9 462.8 310.7 462.8"/><path d="M117.1 552.8C213.9 552.8 213.9 463.9 310.7 463.9"/><path d="M117.1 553.9C213.9 553.9 213.9 465.1 310.7 465.1"/><path d="M117.1 555.1C213.9 555.1 213.9 466.2 310.7 466.2"/><path d="M117.1 556.3C213.9 556.3 213.9 467.4 310.7 467.4"/><path d="M117.1 557.4C213.9 557.4 213.9 468.5 310.7 468.5"/><path d="M117.1 558.6C213.9 558.6 213.9 469.7 310.7 469.7"/><path d="M117.1 559.7C213.9 559.7 213.9 470.9 310.7 470.9"/><path d="M117.1 560.9C213.9 560.9 213.9 472.0 310.7 472.0"/><path d="M117.1 562.0C213.9 562.0 213.9 473.2 310.7 473.2"/><path d="M117.1 563.2C213.9 563.2 213.9 474.3 310.7 474.3"/><path d="M117.1 564.3C213.9 564.3 213.9 475.5 310.7 475.5"/><path d="M117.1 565.5C213.9 565.5 213.9 476.6 310.7 476.6"/><path d="M117.1 566.7C213.9 566.7 213.9 477.8 310.7 477.8"/><path d="M117.1 567.8C213.9 567.8 213.9 478.9 310.7 478.9"/><path d="M117.1 569.0C213.9 569.0 213.9 480.1 310.7 480.1"/><path d="M117.1 570.1C213.9 570.1 213.9 481.3 310.7 481.3"/><path d="M117.1 571.3C213.9 571.3 213.9 482.4 310.7 482.4"/><path d="M117.1 572.4C213.9 572.4 213.9 483.6 310.7 483.6"/></g>
<g stroke="#00AACC" stroke-opacity="0.28" stroke-width="1.1"><path d="M117.1 573.6C213.9 573.6 213.9 514.9 310.7 514.9"/><path d="M117.1 574.7C213.9 574.7 213.9 516.0 310.7 516.0"/><path d="M117.1 575.8C213.9 575.8 213.9 517.1 310.7 517.1"/><path d="M117.1 576.9C213.9 576.9 213.9 518.3 310.7 518.3"/></g>
<g stroke="#00AACC" stroke-opacity="0.28" stroke-width="1.25"><path d="M117.1 578.1C213.9 578.1 213.9 536.1 310.7 536.1"/><path d="M117.1 579.3C213.9 579.3 213.9 537.4 310.7 537.4"/><path d="M117.1 580.6C213.9 580.6 213.9 538.6 310.7 538.6"/></g>
<g stroke="#00AACC" stroke-opacity="0.28" stroke-width="1.28"><path d="M117.1 581.9C213.9 581.9 213.9 555.4 310.7 555.4"/><path d="M117.1 583.1C213.9 583.1 213.9 556.7 310.7 556.7"/><path d="M117.1 584.4C213.9 584.4 213.9 558.0 310.7 558.0"/><path d="M117.1 594.1C213.9 594.1 213.9 616.9 310.7 616.9"/><path d="M117.1 595.3C213.9 595.3 213.9 618.2 310.7 618.2"/><path d="M117.1 596.6C213.9 596.6 213.9 619.5 310.7 619.5"/></g>
<g stroke="#00AACC" stroke-opacity="0.28" stroke-width="1.29"><path d="M117.1 585.7C213.9 585.7 213.9 574.7 310.7 574.7"/><path d="M117.1 587.0C213.9 587.0 213.9 575.9 310.7 575.9"/><path d="M117.1 588.3C213.9 588.3 213.9 577.2 310.7 577.2"/></g>
<g stroke="#00AACC" stroke-opacity="0.28" stroke-width="1.12"><path d="M117.1 589.5C213.9 589.5 213.9 594.6 310.7 594.6"/><path d="M117.1 590.6C213.9 590.6 213.9 595.8 310.7 595.8"/><path d="M117.1 591.7C213.9 591.7 213.9 596.9 310.7 596.9"/><path d="M117.1 592.8C213.9 592.8 213.9 598.0 310.7 598.0"/></g>
<g stroke="#00AACC" stroke-opacity="0.28" stroke-width="1.33"><path d="M117.1 597.9C213.9 597.9 213.9 636.9 310.7 636.9"/><path d="M117.1 599.3C213.9 599.3 213.9 638.3 310.7 638.3"/><path d="M117.1 600.6C213.9 600.6 213.9 639.6 310.7 639.6"/></g>
<g stroke="#00AACC" stroke-opacity="0.28" stroke-width="1.23"><path d="M117.1 601.9C213.9 601.9 213.9 670.5 310.7 670.5"/><path d="M117.1 603.1C213.9 603.1 213.9 671.7 310.7 671.7"/><path d="M117.1 604.3C213.9 604.3 213.9 722.7 310.7 722.7"/><path d="M117.1 605.6C213.9 605.6 213.9 724.0 310.7 724.0"/><path d="M117.1 606.8C213.9 606.8 213.9 725.2 310.7 725.2"/></g>
<g stroke="#E9EFF0" stroke-opacity="0.4" stroke-width="1.15"><path d="M117.1 612.5C213.9 612.5 213.9 484.7 310.7 484.7"/><path d="M117.1 613.6C213.9 613.6 213.9 485.8 310.7 485.8"/><path d="M117.1 614.8C213.9 614.8 213.9 487.0 310.7 487.0"/><path d="M117.1 616.0C213.9 616.0 213.9 488.1 310.7 488.1"/><path d="M117.1 617.1C213.9 617.1 213.9 489.3 310.7 489.3"/><path d="M117.1 618.3C213.9 618.3 213.9 490.5 310.7 490.5"/><path d="M117.1 619.4C213.9 619.4 213.9 491.6 310.7 491.6"/><path d="M117.1 620.6C213.9 620.6 213.9 492.8 310.7 492.8"/><path d="M117.1 621.7C213.9 621.7 213.9 493.9 310.7 493.9"/><path d="M117.1 622.9C213.9 622.9 213.9 495.1 310.7 495.1"/><path d="M117.1 624.0C213.9 624.0 213.9 496.2 310.7 496.2"/><path d="M117.1 625.2C213.9 625.2 213.9 497.4 310.7 497.4"/><path d="M117.1 626.3C213.9 626.3 213.9 498.5 310.7 498.5"/><path d="M117.1 627.5C213.9 627.5 213.9 499.7 310.7 499.7"/><path d="M117.1 628.6C213.9 628.6 213.9 500.8 310.7 500.8"/></g>
<g stroke="#E9EFF0" stroke-opacity="0.4" stroke-width="1.08"><path d="M117.1 629.8C213.9 629.8 213.9 519.3 310.7 519.3"/><path d="M117.1 630.9C213.9 630.9 213.9 520.4 310.7 520.4"/><path d="M117.1 631.9C213.9 631.9 213.9 521.5 310.7 521.5"/><path d="M117.1 633.0C213.9 633.0 213.9 522.6 310.7 522.6"/></g>
<g stroke="#E9EFF0" stroke-opacity="0.4" stroke-width="1.18"><path d="M117.1 634.1C213.9 634.1 213.9 539.8 310.7 539.8"/><path d="M117.1 635.3C213.9 635.3 213.9 541.0 310.7 541.0"/><path d="M117.1 636.5C213.9 636.5 213.9 542.2 310.7 542.2"/></g>
<g stroke="#E9EFF0" stroke-opacity="0.4" stroke-width="1.28"><path d="M117.1 637.7C213.9 637.7 213.9 559.3 310.7 559.3"/><path d="M117.1 639.0C213.9 639.0 213.9 560.5 310.7 560.5"/><path d="M117.1 640.3C213.9 640.3 213.9 561.8 310.7 561.8"/></g>
<g stroke="#E9EFF0" stroke-opacity="0.4" stroke-width="1.22"><path d="M117.1 641.5C213.9 641.5 213.9 578.5 310.7 578.5"/><path d="M117.1 642.8C213.9 642.8 213.9 579.7 310.7 579.7"/><path d="M117.1 644.0C213.9 644.0 213.9 580.9 310.7 580.9"/><path d="M117.1 660.9C213.9 660.9 213.9 726.4 310.7 726.4"/><path d="M117.1 662.1C213.9 662.1 213.9 727.6 310.7 727.6"/><path d="M117.1 663.4C213.9 663.4 213.9 728.9 310.7 728.9"/><path d="M117.1 664.6C213.9 664.6 213.9 730.1 310.7 730.1"/></g>
<g stroke="#E9EFF0" stroke-opacity="0.4" stroke-width="1.12"><path d="M117.1 645.2C213.9 645.2 213.9 599.1 310.7 599.1"/><path d="M117.1 646.3C213.9 646.3 213.9 600.2 310.7 600.2"/><path d="M117.1 647.4C213.9 647.4 213.9 601.3 310.7 601.3"/><path d="M117.1 648.5C213.9 648.5 213.9 602.5 310.7 602.5"/></g>
<g stroke="#E9EFF0" stroke-opacity="0.4" stroke-width="1.27"><path d="M117.1 649.7C213.9 649.7 213.9 620.8 310.7 620.8"/><path d="M117.1 651.0C213.9 651.0 213.9 622.0 310.7 622.0"/><path d="M117.1 652.3C213.9 652.3 213.9 623.3 310.7 623.3"/></g>
<g stroke="#E9EFF0" stroke-opacity="0.4" stroke-width="1.33"><path d="M117.1 653.6C213.9 653.6 213.9 640.9 310.7 640.9"/><path d="M117.1 654.9C213.9 654.9 213.9 642.3 310.7 642.3"/><path d="M117.1 656.2C213.9 656.2 213.9 643.6 310.7 643.6"/></g>
<g stroke="#E9EFF0" stroke-opacity="0.4" stroke-width="1.13"><path d="M117.1 657.5C213.9 657.5 213.9 672.9 310.7 672.9"/><path d="M117.1 658.6C213.9 658.6 213.9 674.0 310.7 674.0"/><path d="M117.1 659.7C213.9 659.7 213.9 675.1 310.7 675.1"/></g>
<g stroke="#00A08F" stroke-opacity="0.28" stroke-width="1.08"><path d="M117.1 669.4C213.9 669.4 213.9 501.9 310.7 501.9"/><path d="M117.1 670.5C213.9 670.5 213.9 503.0 310.7 503.0"/><path d="M117.1 671.6C213.9 671.6 213.9 504.1 310.7 504.1"/><path d="M117.1 672.7C213.9 672.7 213.9 505.2 310.7 505.2"/><path d="M117.1 673.8C213.9 673.8 213.9 506.3 310.7 506.3"/></g>
<g stroke="#00A08F" stroke-opacity="0.28" stroke-width="1.23"><path d="M117.1 674.9C213.9 674.9 213.9 523.7 310.7 523.7"/><path d="M117.1 676.2C213.9 676.2 213.9 524.9 310.7 524.9"/><path d="M117.1 677.4C213.9 677.4 213.9 526.2 310.7 526.2"/><path d="M117.1 678.6C213.9 678.6 213.9 527.4 310.7 527.4"/></g>
<g stroke="#00A08F" stroke-opacity="0.28" stroke-width="1.01"><path d="M117.1 679.8C213.9 679.8 213.9 543.3 310.7 543.3"/><path d="M117.1 680.8C213.9 680.8 213.9 544.3 310.7 544.3"/><path d="M117.1 681.8C213.9 681.8 213.9 545.3 310.7 545.3"/><path d="M117.1 682.8C213.9 682.8 213.9 546.3 310.7 546.3"/></g>
<g stroke="#00A08F" stroke-opacity="0.28" stroke-width="1.07"><path d="M117.1 683.8C213.9 683.8 213.9 563.0 310.7 563.0"/><path d="M117.1 684.9C213.9 684.9 213.9 564.0 310.7 564.0"/><path d="M117.1 686.0C213.9 686.0 213.9 565.1 310.7 565.1"/><path d="M117.1 687.0C213.9 687.0 213.9 566.2 310.7 566.2"/><path d="M117.1 697.4C213.9 697.4 213.9 624.5 310.7 624.5"/><path d="M117.1 698.5C213.9 698.5 213.9 625.5 310.7 625.5"/><path d="M117.1 699.6C213.9 699.6 213.9 626.6 310.7 626.6"/><path d="M117.1 700.6C213.9 700.6 213.9 627.7 310.7 627.7"/></g>
<g stroke="#00A08F" stroke-opacity="0.28" stroke-width="1.05"><path d="M117.1 688.1C213.9 688.1 213.9 582.0 310.7 582.0"/><path d="M117.1 689.2C213.9 689.2 213.9 583.1 310.7 583.1"/><path d="M117.1 690.2C213.9 690.2 213.9 584.1 310.7 584.1"/><path d="M117.1 691.3C213.9 691.3 213.9 585.2 310.7 585.2"/></g>
<g stroke="#00A08F" stroke-opacity="0.28" stroke-width="1.27"><path d="M117.1 692.4C213.9 692.4 213.9 603.6 310.7 603.6"/><path d="M117.1 693.7C213.9 693.7 213.9 604.9 310.7 604.9"/><path d="M117.1 695.0C213.9 695.0 213.9 606.2 310.7 606.2"/><path d="M117.1 696.2C213.9 696.2 213.9 607.5 310.7 607.5"/></g>
<g stroke="#00A08F" stroke-opacity="0.28" stroke-width="1.14"><path d="M117.1 701.7C213.9 701.7 213.9 644.8 310.7 644.8"/><path d="M117.1 702.9C213.9 702.9 213.9 646.0 310.7 646.0"/><path d="M117.1 704.0C213.9 704.0 213.9 647.1 310.7 647.1"/><path d="M117.1 705.2C213.9 705.2 213.9 648.2 310.7 648.2"/></g>
<g stroke="#00A08F" stroke-opacity="0.28" stroke-width="1.16"><path d="M117.1 706.3C213.9 706.3 213.9 676.3 310.7 676.3"/><path d="M117.1 707.5C213.9 707.5 213.9 677.4 310.7 677.4"/><path d="M117.1 708.6C213.9 708.6 213.9 678.6 310.7 678.6"/><path d="M117.1 709.8C213.9 709.8 213.9 679.7 310.7 679.7"/></g>
<g stroke="#00A08F" stroke-opacity="0.28" stroke-width="1.13"><path d="M117.1 710.9C213.9 710.9 213.9 731.3 310.7 731.3"/><path d="M117.1 712.1C213.9 712.1 213.9 732.4 310.7 732.4"/><path d="M117.1 713.2C213.9 713.2 213.9 733.5 310.7 733.5"/><path d="M117.1 714.3C213.9 714.3 213.9 734.6 310.7 734.6"/></g>
<g stroke="#FDB515" stroke-opacity="0.28" stroke-width="1.13"><path d="M317.6 446.6H511.2"/><path d="M317.6 447.7H511.2"/><path d="M317.6 448.8H511.2"/><path d="M317.6 450.0H511.2"/><path d="M317.6 451.1H511.2"/><path d="M317.6 452.2H511.2"/><path d="M317.6 453.4H511.2"/><path d="M317.6 454.5H511.2"/><path d="M317.6 455.6H511.2"/><path d="M317.6 456.7H511.2"/><path d="M317.6 457.9H511.2"/><path d="M317.6 459.0H511.2"/><path d="M317.6 460.1H511.2"/><path d="M317.6 461.3H511.2"/><path d="M317.6 462.4H511.2"/><path d="M317.6 463.5H511.2"/><path d="M317.6 464.7H511.2"/><path d="M317.6 465.8H511.2"/><path d="M317.6 466.9H511.2"/><path d="M317.6 468.1H511.2"/><path d="M317.6 469.2H511.2"/><path d="M317.6 470.3H511.2"/><path d="M317.6 471.5H511.2"/><path d="M317.6 472.6H511.2"/><path d="M317.6 473.7H511.2"/><path d="M317.6 474.9H511.2"/><path d="M317.6 476.0C414.4 476.0 414.4 596.5 511.2 596.5"/><path d="M317.6 477.1C414.4 477.1 414.4 597.6 511.2 597.6"/><path d="M317.6 478.2C414.4 478.2 414.4 598.7 511.2 598.7"/><path d="M317.6 479.4C414.4 479.4 414.4 599.9 511.2 599.9"/><path d="M317.6 480.5C414.4 480.5 414.4 601.0 511.2 601.0"/><path d="M317.6 481.6C414.4 481.6 414.4 602.1 511.2 602.1"/><path d="M317.6 482.8C414.4 482.8 414.4 603.2 511.2 603.2"/><path d="M317.6 483.9C414.4 483.9 414.4 604.4 511.2 604.4"/><path d="M317.6 485.0C414.4 485.0 414.4 605.5 511.2 605.5"/><path d="M317.6 486.1C414.4 486.1 414.4 606.6 511.2 606.6"/><path d="M317.6 487.3C414.4 487.3 414.4 607.8 511.2 607.8"/><path d="M317.6 488.4C414.4 488.4 414.4 608.9 511.2 608.9"/><path d="M317.6 489.5C414.4 489.5 414.4 610.0 511.2 610.0"/><path d="M317.6 490.7C414.4 490.7 414.4 611.1 511.2 611.1"/><path d="M317.6 491.8C414.4 491.8 414.4 612.3 511.2 612.3"/><path d="M317.6 492.9C414.4 492.9 414.4 613.4 511.2 613.4"/><path d="M317.6 494.0C414.4 494.0 414.4 614.5 511.2 614.5"/><path d="M317.6 495.2C414.4 495.2 414.4 615.7 511.2 615.7"/></g>
<g stroke="#FDB515" stroke-opacity="0.28" stroke-width="1.1"><path d="M317.6 496.3C414.4 496.3 414.4 662.6 511.2 662.6"/><path d="M317.6 497.4C414.4 497.4 414.4 663.6 511.2 663.6"/><path d="M317.6 498.5C414.4 498.5 414.4 664.7 511.2 664.7"/></g>
<g stroke="#FDB515" stroke-opacity="0.28" stroke-width="1.24"><path d="M317.6 499.6C414.4 499.6 414.4 696.2 511.2 696.2"/><path d="M317.6 500.9C414.4 500.9 414.4 697.5 511.2 697.5"/><path d="M317.6 502.1C414.4 502.1 414.4 698.7 511.2 698.7"/></g>
<g stroke="#FDB515" stroke-opacity="0.28" stroke-width="1.02"><path d="M317.6 503.2C414.4 503.2 414.4 718.4 511.2 718.4"/><path d="M317.6 504.3C414.4 504.3 414.4 719.4 511.2 719.4"/><path d="M317.6 505.3C414.4 505.3 414.4 720.4 511.2 720.4"/><path d="M317.6 506.3C414.4 506.3 414.4 721.5 511.2 721.5"/></g>
<g stroke="#FF8080" stroke-opacity="0.28" stroke-width="1.13"><path d="M317.6 510.8C414.4 510.8 414.4 476.0 511.2 476.0"/><path d="M317.6 511.9C414.4 511.9 414.4 477.2 511.2 477.2"/><path d="M317.6 513.0C414.4 513.0 414.4 478.3 511.2 478.3"/><path d="M317.6 514.2C414.4 514.2 414.4 479.4 511.2 479.4"/><path d="M317.6 515.3C414.4 515.3 414.4 480.6 511.2 480.6"/><path d="M317.6 516.4C414.4 516.4 414.4 481.7 511.2 481.7"/><path d="M317.6 517.6C414.4 517.6 414.4 482.8 511.2 482.8"/><path d="M317.6 518.7C414.4 518.7 414.4 484.0 511.2 484.0"/><path d="M317.6 519.8C414.4 519.8 414.4 485.1 511.2 485.1"/><path d="M317.6 521.0C414.4 521.0 414.4 486.2 511.2 486.2"/><path d="M317.6 522.1C414.4 522.1 414.4 487.4 511.2 487.4"/><path d="M317.6 523.2C414.4 523.2 414.4 488.5 511.2 488.5"/></g>
<g stroke="#FF8080" stroke-opacity="0.28" stroke-width="1.63"><path d="M317.6 524.6C414.4 524.6 414.4 617.0 511.2 617.0"/></g>
<g stroke="#FF8080" stroke-opacity="0.28" stroke-width="0.74"><path d="M317.6 525.8C414.4 525.8 414.4 665.7 511.2 665.7"/></g>
<g stroke="#FF8080" stroke-opacity="0.28" stroke-width="0.92"><path d="M317.6 526.6C414.4 526.6 414.4 699.8 511.2 699.8"/></g>
<g stroke="#FF8080" stroke-opacity="0.28" stroke-width="0.93"><path d="M317.6 527.5C414.4 527.5 414.4 722.4 511.2 722.4"/></g>
<g stroke="#42C2B3" stroke-opacity="0.28" stroke-width="1.11"><path d="M317.6 532.3C414.4 532.3 414.4 489.6 511.2 489.6"/><path d="M317.6 533.5C414.4 533.5 414.4 490.7 511.2 490.7"/><path d="M317.6 534.6C414.4 534.6 414.4 491.8 511.2 491.8"/><path d="M317.6 535.7C414.4 535.7 414.4 492.9 511.2 492.9"/><path d="M317.6 536.8C414.4 536.8 414.4 494.1 511.2 494.1"/><path d="M317.6 537.9C414.4 537.9 414.4 495.2 511.2 495.2"/><path d="M317.6 539.0C414.4 539.0 414.4 496.3 511.2 496.3"/><path d="M317.6 540.1C414.4 540.1 414.4 497.4 511.2 497.4"/></g>
<g stroke="#42C2B3" stroke-opacity="0.28" stroke-width="1.0"><path d="M317.6 541.1C414.4 541.1 414.4 618.4 511.2 618.4"/><path d="M317.6 542.1C414.4 542.1 414.4 619.4 511.2 619.4"/><path d="M317.6 543.1C414.4 543.1 414.4 620.4 511.2 620.4"/></g>
<g stroke="#42C2B3" stroke-opacity="0.28" stroke-width="0.91"><path d="M317.6 544.1C414.4 544.1 414.4 666.5 511.2 666.5"/></g>
<g stroke="#42C2B3" stroke-opacity="0.28" stroke-width="1.08"><path d="M317.6 545.1C414.4 545.1 414.4 700.8 511.2 700.8"/></g>
<g stroke="#42C2B3" stroke-opacity="0.28" stroke-width="1.18"><path d="M317.6 546.2C414.4 546.2 414.4 723.5 511.2 723.5"/></g>
<g stroke="#F5D255" stroke-opacity="0.28" stroke-width="1.22"><path d="M317.6 551.5C414.4 551.5 414.4 498.5 511.2 498.5"/><path d="M317.6 552.7C414.4 552.7 414.4 499.8 511.2 499.8"/><path d="M317.6 553.9C414.4 553.9 414.4 501.0 511.2 501.0"/><path d="M317.6 555.2C414.4 555.2 414.4 502.2 511.2 502.2"/><path d="M317.6 556.4C414.4 556.4 414.4 503.4 511.2 503.4"/><path d="M317.6 557.6C414.4 557.6 414.4 504.6 511.2 504.6"/><path d="M317.6 558.8C414.4 558.8 414.4 505.9 511.2 505.9"/><path d="M317.6 560.0C414.4 560.0 414.4 507.1 511.2 507.1"/></g>
<g stroke="#F5D255" stroke-opacity="0.28" stroke-width="1.42"><path d="M317.6 561.4C414.4 561.4 414.4 621.6 511.2 621.6"/><path d="M317.6 562.8C414.4 562.8 414.4 623.0 511.2 623.0"/></g>
<g stroke="#F5D255" stroke-opacity="0.28" stroke-width="0.92"><path d="M317.6 563.9C414.4 563.9 414.4 667.4 511.2 667.4"/></g>
<g stroke="#F5D255" stroke-opacity="0.28" stroke-width="1.09"><path d="M317.6 565.0C414.4 565.0 414.4 701.9 511.2 701.9"/></g>
<g stroke="#F5D255" stroke-opacity="0.28" stroke-width="1.2"><path d="M317.6 566.1C414.4 566.1 414.4 724.7 511.2 724.7"/></g>
<g stroke="#E2C0C0" stroke-opacity="0.28" stroke-width="1.16"><path d="M317.6 570.8C414.4 570.8 414.4 508.3 511.2 508.3"/><path d="M317.6 571.9C414.4 571.9 414.4 509.4 511.2 509.4"/><path d="M317.6 573.1C414.4 573.1 414.4 510.6 511.2 510.6"/><path d="M317.6 574.2C414.4 574.2 414.4 511.7 511.2 511.7"/><path d="M317.6 575.4C414.4 575.4 414.4 512.9 511.2 512.9"/><path d="M317.6 576.6C414.4 576.6 414.4 514.1 511.2 514.1"/><path d="M317.6 577.7C414.4 577.7 414.4 515.2 511.2 515.2"/><path d="M317.6 578.9C414.4 578.9 414.4 516.4 511.2 516.4"/><path d="M317.6 580.0C414.4 580.0 414.4 517.5 511.2 517.5"/></g>
<g stroke="#E2C0C0" stroke-opacity="0.28" stroke-width="1.22"><path d="M317.6 581.2C414.4 581.2 414.4 624.3 511.2 624.3"/><path d="M317.6 582.4C414.4 582.4 414.4 625.5 511.2 625.5"/></g>
<g stroke="#E2C0C0" stroke-opacity="0.28" stroke-width="0.83"><path d="M317.6 583.4C414.4 583.4 414.4 668.3 511.2 668.3"/></g>
<g stroke="#E2C0C0" stroke-opacity="0.28" stroke-width="0.91"><path d="M317.6 584.3C414.4 584.3 414.4 702.9 511.2 702.9"/></g>
<g stroke="#E2C0C0" stroke-opacity="0.28" stroke-width="0.93"><path d="M317.6 585.2C414.4 585.2 414.4 725.7 511.2 725.7"/></g>
<g stroke="#3192BA" stroke-opacity="0.28" stroke-width="1.16"><path d="M317.6 590.1C414.4 590.1 414.4 518.7 511.2 518.7"/><path d="M317.6 591.2C414.4 591.2 414.4 519.8 511.2 519.8"/><path d="M317.6 592.4C414.4 592.4 414.4 521.0 511.2 521.0"/><path d="M317.6 593.5C414.4 593.5 414.4 522.2 511.2 522.2"/><path d="M317.6 594.7C414.4 594.7 414.4 523.3 511.2 523.3"/><path d="M317.6 595.9C414.4 595.9 414.4 524.5 511.2 524.5"/><path d="M317.6 597.0C414.4 597.0 414.4 525.6 511.2 525.6"/><path d="M317.6 598.2C414.4 598.2 414.4 526.8 511.2 526.8"/><path d="M317.6 599.3C414.4 599.3 414.4 527.9 511.2 527.9"/><path d="M317.6 600.5C414.4 600.5 414.4 529.1 511.2 529.1"/></g>
<g stroke="#3192BA" stroke-opacity="0.28" stroke-width="1.14"><path d="M317.6 601.6C414.4 601.6 414.4 626.7 511.2 626.7"/><path d="M317.6 602.8C414.4 602.8 414.4 627.9 511.2 627.9"/><path d="M317.6 603.9C414.4 603.9 414.4 629.0 511.2 629.0"/></g>
<g stroke="#3192BA" stroke-opacity="0.28" stroke-width="1.09"><path d="M317.6 605.0C414.4 605.0 414.4 669.2 511.2 669.2"/></g>
<g stroke="#3192BA" stroke-opacity="0.28" stroke-width="1.26"><path d="M317.6 606.2C414.4 606.2 414.4 704.0 511.2 704.0"/></g>
<g stroke="#3192BA" stroke-opacity="0.28" stroke-width="1.28"><path d="M317.6 607.5C414.4 607.5 414.4 726.8 511.2 726.8"/></g>
<g stroke="#5F6868" stroke-opacity="0.28" stroke-width="1.15"><path d="M317.6 612.8C414.4 612.8 414.4 530.3 511.2 530.3"/><path d="M317.6 613.9C414.4 613.9 414.4 531.4 511.2 531.4"/><path d="M317.6 615.1C414.4 615.1 414.4 532.6 511.2 532.6"/><path d="M317.6 616.2C414.4 616.2 414.4 533.7 511.2 533.7"/><path d="M317.6 617.4C414.4 617.4 414.4 534.9 511.2 534.9"/><path d="M317.6 618.5C414.4 618.5 414.4 536.0 511.2 536.0"/><path d="M317.6 619.7C414.4 619.7 414.4 537.2 511.2 537.2"/><path d="M317.6 620.8C414.4 620.8 414.4 538.3 511.2 538.3"/><path d="M317.6 622.0C414.4 622.0 414.4 539.5 511.2 539.5"/><path d="M317.6 623.2C414.4 623.2 414.4 540.6 511.2 540.6"/></g>
<g stroke="#5F6868" stroke-opacity="0.28" stroke-width="1.08"><path d="M317.6 624.3C414.4 624.3 414.4 630.1 511.2 630.1"/><path d="M317.6 625.3C414.4 625.3 414.4 631.2 511.2 631.2"/></g>
<g stroke="#5F6868" stroke-opacity="0.28" stroke-width="0.71"><path d="M317.6 626.2C414.4 626.2 414.4 670.2 511.2 670.2"/></g>
<g stroke="#5F6868" stroke-opacity="0.28" stroke-width="0.8"><path d="M317.6 627.0C414.4 627.0 414.4 705.0 511.2 705.0"/></g>
<g stroke="#5F6868" stroke-opacity="0.28" stroke-width="0.81"><path d="M317.6 627.8C414.4 627.8 414.4 727.9 511.2 727.9"/></g>
<g stroke="#6F7780" stroke-opacity="0.28" stroke-width="1.21"><path d="M317.6 632.7C414.4 632.7 414.4 541.8 511.2 541.8"/><path d="M317.6 633.9C414.4 633.9 414.4 543.0 511.2 543.0"/><path d="M317.6 635.1C414.4 635.1 414.4 544.2 511.2 544.2"/><path d="M317.6 636.3C414.4 636.3 414.4 545.5 511.2 545.5"/><path d="M317.6 637.5C414.4 637.5 414.4 546.7 511.2 546.7"/><path d="M317.6 638.8C414.4 638.8 414.4 547.9 511.2 547.9"/><path d="M317.6 640.0C414.4 640.0 414.4 549.1 511.2 549.1"/><path d="M317.6 641.2C414.4 641.2 414.4 550.3 511.2 550.3"/><path d="M317.6 642.4C414.4 642.4 414.4 551.5 511.2 551.5"/></g>
<g stroke="#6F7780" stroke-opacity="0.28" stroke-width="1.41"><path d="M317.6 643.7C414.4 643.7 414.4 632.4 511.2 632.4"/><path d="M317.6 645.1C414.4 645.1 414.4 633.8 511.2 633.8"/></g>
<g stroke="#6F7780" stroke-opacity="0.28" stroke-width="0.91"><path d="M317.6 646.3C414.4 646.3 414.4 671.0 511.2 671.0"/></g>
<g stroke="#6F7780" stroke-opacity="0.28" stroke-width="1.0"><path d="M317.6 647.2C414.4 647.2 414.4 705.9 511.2 705.9"/></g>
<g stroke="#6F7780" stroke-opacity="0.28" stroke-width="1.1"><path d="M317.6 648.3C414.4 648.3 414.4 728.8 511.2 728.8"/></g>
<g stroke="#002878" stroke-opacity="0.28" stroke-width="1.17"><path d="M317.6 653.5C414.4 653.5 414.4 552.7 511.2 552.7"/><path d="M317.6 654.7C414.4 654.7 414.4 553.9 511.2 553.9"/><path d="M317.6 655.8C414.4 655.8 414.4 555.0 511.2 555.0"/><path d="M317.6 657.0C414.4 657.0 414.4 556.2 511.2 556.2"/><path d="M317.6 658.2C414.4 658.2 414.4 557.4 511.2 557.4"/><path d="M317.6 659.3C414.4 659.3 414.4 558.6 511.2 558.6"/><path d="M317.6 660.5C414.4 660.5 414.4 559.7 511.2 559.7"/><path d="M317.6 661.7C414.4 661.7 414.4 560.9 511.2 560.9"/><path d="M317.6 662.8C414.4 662.8 414.4 562.1 511.2 562.1"/><path d="M317.6 664.0C414.4 664.0 414.4 563.2 511.2 563.2"/><path d="M317.6 665.2C414.4 665.2 414.4 564.4 511.2 564.4"/></g>
<g stroke="#002878" stroke-opacity="0.28" stroke-width="1.14"><path d="M317.6 666.3C414.4 666.3 414.4 635.1 511.2 635.1"/><path d="M317.6 667.5C414.4 667.5 414.4 636.2 511.2 636.2"/><path d="M317.6 668.6C414.4 668.6 414.4 637.4 511.2 637.4"/><path d="M317.6 669.7C414.4 669.7 414.4 638.5 511.2 638.5"/><path d="M317.6 670.9C414.4 670.9 414.4 639.7 511.2 639.7"/><path d="M317.6 672.0C414.4 672.0 414.4 640.8 511.2 640.8"/></g>
<g stroke="#002878" stroke-opacity="0.28" stroke-width="1.03"><path d="M317.6 673.1C414.4 673.1 414.4 671.9 511.2 671.9"/><path d="M317.6 674.1C414.4 674.1 414.4 673.0 511.2 673.0"/></g>
<g stroke="#002878" stroke-opacity="0.28" stroke-width="1.28"><path d="M317.6 675.3C414.4 675.3 414.4 707.0 511.2 707.0"/><path d="M317.6 676.6C414.4 676.6 414.4 708.3 511.2 708.3"/></g>
<g stroke="#002878" stroke-opacity="0.28" stroke-width="1.04"><path d="M317.6 677.7C414.4 677.7 414.4 729.9 511.2 729.9"/><path d="M317.6 678.7C414.4 678.7 414.4 731.0 511.2 731.0"/><path d="M317.6 679.8C414.4 679.8 414.4 732.0 511.2 732.0"/></g>
<g stroke="#A3D9EF" stroke-opacity="0.28" stroke-width="1.15"><path d="M517.9 446.6H711.9"/><path d="M517.9 447.7H711.9"/><path d="M517.9 448.9H711.9"/><path d="M517.9 450.0H711.9"/><path d="M517.9 451.2H711.9"/><path d="M517.9 452.3H711.9"/><path d="M517.9 453.5H711.9"/><path d="M517.9 454.6H711.9"/><path d="M517.9 455.8H711.9"/><path d="M517.9 456.9H711.9"/><path d="M517.9 458.1H711.9"/><path d="M517.9 459.2H711.9"/><path d="M517.9 460.4H711.9"/><path d="M517.9 461.5H711.9"/><path d="M517.9 462.7H711.9"/><path d="M517.9 463.8H711.9"/><path d="M517.9 465.0H711.9"/><path d="M517.9 466.1H711.9"/><path d="M517.9 467.3H711.9"/><path d="M517.9 468.4H711.9"/><path d="M517.9 469.6H711.9"/><path d="M517.9 470.7H711.9"/><path d="M517.9 471.9H711.9"/><path d="M517.9 473.0H711.9"/><path d="M517.9 474.2H711.9"/><path d="M517.9 475.3H711.9"/><path d="M517.9 476.5H711.9"/><path d="M517.9 477.6H711.9"/><path d="M517.9 478.8H711.9"/><path d="M517.9 479.9H711.9"/><path d="M517.9 481.1H711.9"/><path d="M517.9 482.2H711.9"/><path d="M517.9 483.4H711.9"/><path d="M517.9 484.5H711.9"/></g>
<g stroke="#A3D9EF" stroke-opacity="0.28" stroke-width="1.14"><path d="M517.9 485.7C614.9 485.7 614.9 510.5 711.9 510.5"/><path d="M517.9 486.8C614.9 486.8 614.9 511.6 711.9 511.6"/><path d="M517.9 487.9C614.9 487.9 614.9 512.8 711.9 512.8"/><path d="M517.9 489.1C614.9 489.1 614.9 513.9 711.9 513.9"/><path d="M517.9 490.2C614.9 490.2 614.9 515.1 711.9 515.1"/><path d="M517.9 491.4C614.9 491.4 614.9 516.2 711.9 516.2"/><path d="M517.9 492.5C614.9 492.5 614.9 517.3 711.9 517.3"/><path d="M517.9 493.7C614.9 493.7 614.9 518.5 711.9 518.5"/><path d="M517.9 494.8C614.9 494.8 614.9 519.6 711.9 519.6"/><path d="M517.9 495.9C614.9 495.9 614.9 520.8 711.9 520.8"/><path d="M517.9 497.1C614.9 497.1 614.9 521.9 711.9 521.9"/><path d="M517.9 498.2C614.9 498.2 614.9 523.1 711.9 523.1"/><path d="M517.9 499.4C614.9 499.4 614.9 524.2 711.9 524.2"/><path d="M517.9 500.5C614.9 500.5 614.9 525.3 711.9 525.3"/><path d="M517.9 501.7C614.9 501.7 614.9 526.5 711.9 526.5"/><path d="M517.9 502.8C614.9 502.8 614.9 527.6 711.9 527.6"/><path d="M517.9 503.9C614.9 503.9 614.9 528.8 711.9 528.8"/><path d="M517.9 505.1C614.9 505.1 614.9 529.9 711.9 529.9"/><path d="M517.9 506.2C614.9 506.2 614.9 531.1 711.9 531.1"/><path d="M517.9 507.4C614.9 507.4 614.9 532.2 711.9 532.2"/><path d="M517.9 508.5C614.9 508.5 614.9 533.3 711.9 533.3"/><path d="M517.9 509.7C614.9 509.7 614.9 534.5 711.9 534.5"/><path d="M517.9 510.8C614.9 510.8 614.9 535.6 711.9 535.6"/><path d="M517.9 511.9C614.9 511.9 614.9 536.8 711.9 536.8"/></g>
<g stroke="#A3D9EF" stroke-opacity="0.28" stroke-width="1.16"><path d="M517.9 513.1C614.9 513.1 614.9 597.7 711.9 597.7"/><path d="M517.9 514.2C614.9 514.2 614.9 598.9 711.9 598.9"/><path d="M517.9 515.4C614.9 515.4 614.9 600.0 711.9 600.0"/><path d="M517.9 516.6C614.9 516.6 614.9 601.2 711.9 601.2"/><path d="M517.9 517.7C614.9 517.7 614.9 602.3 711.9 602.3"/><path d="M517.9 518.9C614.9 518.9 614.9 603.5 711.9 603.5"/><path d="M517.9 520.1C614.9 520.1 614.9 604.7 711.9 604.7"/><path d="M517.9 521.2C614.9 521.2 614.9 605.8 711.9 605.8"/><path d="M517.9 522.4C614.9 522.4 614.9 607.0 711.9 607.0"/><path d="M517.9 523.5C614.9 523.5 614.9 608.2 711.9 608.2"/><path d="M517.9 524.7C614.9 524.7 614.9 609.3 711.9 609.3"/><path d="M517.9 525.9C614.9 525.9 614.9 610.5 711.9 610.5"/><path d="M517.9 527.0C614.9 527.0 614.9 611.7 711.9 611.7"/><path d="M517.9 528.2C614.9 528.2 614.9 612.8 711.9 612.8"/><path d="M517.9 529.4C614.9 529.4 614.9 614.0 711.9 614.0"/><path d="M517.9 530.5C614.9 530.5 614.9 615.2 711.9 615.2"/><path d="M517.9 531.7C614.9 531.7 614.9 616.3 711.9 616.3"/></g>
<g stroke="#A3D9EF" stroke-opacity="0.28" stroke-width="1.17"><path d="M517.9 532.8C614.9 532.8 614.9 646.7 711.9 646.7"/><path d="M517.9 534.0C614.9 534.0 614.9 647.9 711.9 647.9"/><path d="M517.9 535.2C614.9 535.2 614.9 649.0 711.9 649.0"/><path d="M517.9 536.3C614.9 536.3 614.9 650.2 711.9 650.2"/><path d="M517.9 537.5C614.9 537.5 614.9 651.4 711.9 651.4"/><path d="M517.9 538.7C614.9 538.7 614.9 652.5 711.9 652.5"/><path d="M517.9 539.8C614.9 539.8 614.9 653.7 711.9 653.7"/><path d="M517.9 541.0C614.9 541.0 614.9 654.9 711.9 654.9"/><path d="M517.9 542.2C614.9 542.2 614.9 656.0 711.9 656.0"/><path d="M517.9 543.4C614.9 543.4 614.9 657.2 711.9 657.2"/><path d="M517.9 544.5C614.9 544.5 614.9 658.4 711.9 658.4"/><path d="M517.9 545.7C614.9 545.7 614.9 659.6 711.9 659.6"/><path d="M517.9 546.9C614.9 546.9 614.9 660.7 711.9 660.7"/><path d="M517.9 548.0C614.9 548.0 614.9 661.9 711.9 661.9"/><path d="M517.9 549.2C614.9 549.2 614.9 663.1 711.9 663.1"/><path d="M517.9 550.4C614.9 550.4 614.9 664.2 711.9 664.2"/><path d="M517.9 551.5C614.9 551.5 614.9 665.4 711.9 665.4"/><path d="M517.9 552.7C614.9 552.7 614.9 666.6 711.9 666.6"/><path d="M517.9 553.9C614.9 553.9 614.9 667.7 711.9 667.7"/><path d="M517.9 555.0C614.9 555.0 614.9 668.9 711.9 668.9"/><path d="M517.9 556.2C614.9 556.2 614.9 670.1 711.9 670.1"/><path d="M517.9 557.4C614.9 557.4 614.9 671.2 711.9 671.2"/><path d="M517.9 558.5C614.9 558.5 614.9 672.4 711.9 672.4"/><path d="M517.9 559.7C614.9 559.7 614.9 673.6 711.9 673.6"/><path d="M517.9 560.9C614.9 560.9 614.9 674.7 711.9 674.7"/><path d="M517.9 562.0C614.9 562.0 614.9 675.9 711.9 675.9"/><path d="M517.9 563.2C614.9 563.2 614.9 677.1 711.9 677.1"/><path d="M517.9 564.4C614.9 564.4 614.9 678.2 711.9 678.2"/><path d="M517.9 565.6C614.9 565.6 614.9 679.4 711.9 679.4"/><path d="M517.9 566.7C614.9 566.7 614.9 680.6 711.9 680.6"/><path d="M517.9 567.9C614.9 567.9 614.9 699.7 711.9 699.7"/><path d="M517.9 569.0C614.9 569.0 614.9 700.9 711.9 700.9"/><path d="M517.9 570.2C614.9 570.2 614.9 702.0 711.9 702.0"/><path d="M517.9 571.4C614.9 571.4 614.9 703.2 711.9 703.2"/><path d="M517.9 572.6C614.9 572.6 614.9 704.4 711.9 704.4"/><path d="M517.9 573.7C614.9 573.7 614.9 705.6 711.9 705.6"/><path d="M517.9 574.9C614.9 574.9 614.9 706.7 711.9 706.7"/><path d="M517.9 576.1C614.9 576.1 614.9 707.9 711.9 707.9"/><path d="M517.9 577.2C614.9 577.2 614.9 709.1 711.9 709.1"/><path d="M517.9 578.4C614.9 578.4 614.9 710.3 711.9 710.3"/><path d="M517.9 579.6C614.9 579.6 614.9 711.4 711.9 711.4"/><path d="M517.9 580.8C614.9 580.8 614.9 712.6 711.9 712.6"/><path d="M517.9 581.9C614.9 581.9 614.9 713.8 711.9 713.8"/><path d="M517.9 583.1C614.9 583.1 614.9 714.9 711.9 714.9"/><path d="M517.9 584.3C614.9 584.3 614.9 716.1 711.9 716.1"/><path d="M517.9 585.5C614.9 585.5 614.9 717.3 711.9 717.3"/><path d="M517.9 586.6C614.9 586.6 614.9 718.5 711.9 718.5"/><path d="M517.9 587.8C614.9 587.8 614.9 719.6 711.9 719.6"/><path d="M517.9 589.0C614.9 589.0 614.9 720.8 711.9 720.8"/><path d="M517.9 590.2C614.9 590.2 614.9 722.0 711.9 722.0"/><path d="M517.9 591.3C614.9 591.3 614.9 723.2 711.9 723.2"/></g>
<g stroke="#7D8686" stroke-opacity="0.28" stroke-width="1.15"><path d="M517.9 596.5C614.9 596.5 614.9 485.8 711.9 485.8"/><path d="M517.9 597.6C614.9 597.6 614.9 486.9 711.9 486.9"/><path d="M517.9 598.8C614.9 598.8 614.9 488.1 711.9 488.1"/><path d="M517.9 599.9C614.9 599.9 614.9 489.2 711.9 489.2"/><path d="M517.9 601.1C614.9 601.1 614.9 490.4 711.9 490.4"/></g>
<g stroke="#7D8686" stroke-opacity="0.28" stroke-width="1.16"><path d="M517.9 602.2C614.9 602.2 614.9 538.0 711.9 538.0"/><path d="M517.9 603.4C614.9 603.4 614.9 539.1 711.9 539.1"/><path d="M517.9 604.5C614.9 604.5 614.9 540.3 711.9 540.3"/><path d="M517.9 605.7C614.9 605.7 614.9 541.4 711.9 541.4"/><path d="M517.9 606.9C614.9 606.9 614.9 542.6 711.9 542.6"/><path d="M517.9 608.0C614.9 608.0 614.9 543.7 711.9 543.7"/><path d="M517.9 609.2C614.9 609.2 614.9 544.9 711.9 544.9"/><path d="M517.9 610.3C614.9 610.3 614.9 546.1 711.9 546.1"/><path d="M517.9 611.5C614.9 611.5 614.9 547.2 711.9 547.2"/><path d="M517.9 612.7C614.9 612.7 614.9 548.4 711.9 548.4"/><path d="M517.9 613.8C614.9 613.8 614.9 549.5 711.9 549.5"/><path d="M517.9 615.0C614.9 615.0 614.9 550.7 711.9 550.7"/><path d="M517.9 616.1C614.9 616.1 614.9 551.9 711.9 551.9"/><path d="M517.9 617.3C614.9 617.3 614.9 553.0 711.9 553.0"/><path d="M517.9 618.5C614.9 618.5 614.9 554.2 711.9 554.2"/><path d="M517.9 619.6C614.9 619.6 614.9 555.3 711.9 555.3"/><path d="M517.9 620.8C614.9 620.8 614.9 556.5 711.9 556.5"/><path d="M517.9 621.9C614.9 621.9 614.9 557.7 711.9 557.7"/><path d="M517.9 623.1C614.9 623.1 614.9 558.8 711.9 558.8"/><path d="M517.9 624.2C614.9 624.2 614.9 560.0 711.9 560.0"/><path d="M517.9 625.4C614.9 625.4 614.9 561.1 711.9 561.1"/><path d="M517.9 626.6C614.9 626.6 614.9 562.3 711.9 562.3"/><path d="M517.9 627.7C614.9 627.7 614.9 563.5 711.9 563.5"/><path d="M517.9 628.9C614.9 628.9 614.9 564.6 711.9 564.6"/><path d="M517.9 630.0C614.9 630.0 614.9 565.8 711.9 565.8"/><path d="M517.9 631.2C614.9 631.2 614.9 566.9 711.9 566.9"/><path d="M517.9 632.4C614.9 632.4 614.9 568.1 711.9 568.1"/><path d="M517.9 633.5C614.9 633.5 614.9 569.3 711.9 569.3"/><path d="M517.9 634.7C614.9 634.7 614.9 570.4 711.9 570.4"/><path d="M517.9 635.8C614.9 635.8 614.9 571.6 711.9 571.6"/><path d="M517.9 637.0C614.9 637.0 614.9 572.7 711.9 572.7"/><path d="M517.9 638.2C614.9 638.2 614.9 573.9 711.9 573.9"/><path d="M517.9 639.3C614.9 639.3 614.9 575.1 711.9 575.1"/><path d="M517.9 640.5C614.9 640.5 614.9 576.2 711.9 576.2"/><path d="M517.9 641.6C614.9 641.6 614.9 577.4 711.9 577.4"/><path d="M517.9 642.8C614.9 642.8 614.9 578.5 711.9 578.5"/><path d="M517.9 644.0C614.9 644.0 614.9 579.7 711.9 579.7"/><path d="M517.9 645.1C614.9 645.1 614.9 580.9 711.9 580.9"/><path d="M517.9 646.3C614.9 646.3 614.9 582.0 711.9 582.0"/><path d="M517.9 647.4C614.9 647.4 614.9 583.2 711.9 583.2"/><path d="M517.9 648.6C614.9 648.6 614.9 584.3 711.9 584.3"/></g>
<g stroke="#7D8686" stroke-opacity="0.28" stroke-width="0.92"><path d="M517.9 649.6C614.9 649.6 614.9 617.4 711.9 617.4"/><path d="M517.9 650.5C614.9 650.5 614.9 618.3 711.9 618.3"/></g>
<g stroke="#7D8686" stroke-opacity="0.28" stroke-width="1.25"><path d="M517.9 651.6C614.9 651.6 614.9 681.8 711.9 681.8"/><path d="M517.9 652.9C614.9 652.9 614.9 683.1 711.9 683.1"/><path d="M517.9 654.1C614.9 654.1 614.9 684.3 711.9 684.3"/></g>
<g stroke="#7D8686" stroke-opacity="0.28" stroke-width="1.09"><path d="M517.9 655.3C614.9 655.3 614.9 724.3 711.9 724.3"/><path d="M517.9 656.4C614.9 656.4 614.9 725.4 711.9 725.4"/><path d="M517.9 657.5C614.9 657.5 614.9 726.5 711.9 726.5"/></g>
<g stroke="#1F6F8B" stroke-opacity="0.28" stroke-width="1.18"><path d="M517.9 662.6C614.9 662.6 614.9 491.5 711.9 491.5"/><path d="M517.9 663.8C614.9 663.8 614.9 492.7 711.9 492.7"/><path d="M517.9 664.9C614.9 664.9 614.9 493.9 711.9 493.9"/></g>
<g stroke="#1F6F8B" stroke-opacity="0.28" stroke-width="1.24"><path d="M517.9 666.1C614.9 666.1 614.9 585.6 711.9 585.6"/><path d="M517.9 667.4C614.9 667.4 614.9 586.8 711.9 586.8"/></g>
<g stroke="#1F6F8B" stroke-opacity="0.28" stroke-width="0.94"><path d="M517.9 668.5C614.9 668.5 614.9 619.2 711.9 619.2"/><path d="M517.9 669.4C614.9 669.4 614.9 620.2 711.9 620.2"/></g>
<g stroke="#1F6F8B" stroke-opacity="0.28" stroke-width="1.28"><path d="M517.9 670.5C614.9 670.5 614.9 685.6 711.9 685.6"/><path d="M517.9 671.8C614.9 671.8 614.9 686.9 711.9 686.9"/><path d="M517.9 673.1C614.9 673.1 614.9 688.1 711.9 688.1"/></g>
<g stroke="#1F6F8B" stroke-opacity="0.28" stroke-width="0.96"><path d="M517.9 674.2C614.9 674.2 614.9 727.5 711.9 727.5"/><path d="M517.9 675.2C614.9 675.2 614.9 728.5 711.9 728.5"/><path d="M517.9 676.1C614.9 676.1 614.9 729.4 711.9 729.4"/></g>
<g stroke="#FFA080" stroke-opacity="0.28" stroke-width="1.17"><path d="M517.9 696.2C614.9 696.2 614.9 495.1 711.9 495.1"/><path d="M517.9 697.4C614.9 697.4 614.9 496.2 711.9 496.2"/><path d="M517.9 698.5C614.9 698.5 614.9 497.4 711.9 497.4"/><path d="M517.9 699.7C614.9 699.7 614.9 498.6 711.9 498.6"/><path d="M517.9 700.9C614.9 700.9 614.9 499.8 711.9 499.8"/></g>
<g stroke="#FFA080" stroke-opacity="0.28" stroke-width="1.32"><path d="M517.9 702.1C614.9 702.1 614.9 588.1 711.9 588.1"/><path d="M517.9 703.4C614.9 703.4 614.9 589.4 711.9 589.4"/></g>
<g stroke="#FFA080" stroke-opacity="0.28" stroke-width="1.0"><path d="M517.9 704.6C614.9 704.6 614.9 621.1 711.9 621.1"/><path d="M517.9 705.6C614.9 705.6 614.9 622.1 711.9 622.1"/></g>
<g stroke="#FFA080" stroke-opacity="0.28" stroke-width="1.02"><path d="M517.9 706.6C614.9 706.6 614.9 689.3 711.9 689.3"/><path d="M517.9 707.6C614.9 707.6 614.9 690.3 711.9 690.3"/><path d="M517.9 708.6C614.9 708.6 614.9 691.3 711.9 691.3"/></g>
<g stroke="#FFA080" stroke-opacity="0.28" stroke-width="1.27"><path d="M517.9 709.8C614.9 709.8 614.9 730.6 711.9 730.6"/><path d="M517.9 711.1C614.9 711.1 614.9 731.8 711.9 731.8"/></g>
<g stroke="#B07EB0" stroke-opacity="0.28" stroke-width="1.17"><path d="M517.9 718.5C614.9 718.5 614.9 500.9 711.9 500.9"/><path d="M517.9 719.6C614.9 719.6 614.9 502.1 711.9 502.1"/><path d="M517.9 720.8C614.9 720.8 614.9 503.3 711.9 503.3"/><path d="M517.9 722.0C614.9 722.0 614.9 504.4 711.9 504.4"/><path d="M517.9 723.1C614.9 723.1 614.9 505.6 711.9 505.6"/></g>
<g stroke="#B07EB0" stroke-opacity="0.28" stroke-width="0.98"><path d="M517.9 724.2C614.9 724.2 614.9 590.6 711.9 590.6"/><path d="M517.9 725.2C614.9 725.2 614.9 591.5 711.9 591.5"/><path d="M517.9 726.2C614.9 726.2 614.9 592.5 711.9 592.5"/></g>
<g stroke="#B07EB0" stroke-opacity="0.28" stroke-width="1.18"><path d="M517.9 727.2C614.9 727.2 614.9 623.2 711.9 623.2"/><path d="M517.9 728.4C614.9 728.4 614.9 624.4 711.9 624.4"/></g>
<g stroke="#B07EB0" stroke-opacity="0.28" stroke-width="1.12"><path d="M517.9 729.6C614.9 729.6 614.9 692.4 711.9 692.4"/><path d="M517.9 730.7C614.9 730.7 614.9 693.5 711.9 693.5"/><path d="M517.9 731.8C614.9 731.8 614.9 694.6 711.9 694.6"/></g>
<g stroke="#B07EB0" stroke-opacity="0.28" stroke-width="1.41"><path d="M517.9 733.1C614.9 733.1 614.9 733.2 711.9 733.2"/><path d="M517.9 734.5C614.9 734.5 614.9 734.6 711.9 734.6"/></g>
<g stroke="#168F82" stroke-opacity="0.28" stroke-width="1.1"><path d="M718.6 446.5H912.3"/><path d="M718.6 447.6H912.3"/><path d="M718.6 448.8H912.3"/><path d="M718.6 449.9H912.3"/><path d="M718.6 451.0H912.3"/><path d="M718.6 452.1H912.3"/><path d="M718.6 453.2H912.3"/><path d="M718.6 454.3H912.3"/><path d="M718.6 455.4H912.3"/><path d="M718.6 456.5H912.3"/><path d="M718.6 487.2C815.5 487.2 815.5 633.9 912.3 633.9"/><path d="M718.6 488.3C815.5 488.3 815.5 635.0 912.3 635.0"/><path d="M718.6 489.4C815.5 489.4 815.5 636.1 912.3 636.1"/><path d="M718.6 490.5C815.5 490.5 815.5 637.2 912.3 637.2"/><path d="M718.6 491.6C815.5 491.6 815.5 638.3 912.3 638.3"/><path d="M718.6 492.7C815.5 492.7 815.5 639.4 912.3 639.4"/><path d="M718.6 493.8C815.5 493.8 815.5 640.5 912.3 640.5"/><path d="M718.6 494.9C815.5 494.9 815.5 641.6 912.3 641.6"/><path d="M718.6 496.0C815.5 496.0 815.5 642.7 912.3 642.7"/><path d="M718.6 497.1C815.5 497.1 815.5 643.8 912.3 643.8"/></g>
<g stroke="#168F82" stroke-opacity="0.28" stroke-width="1.12"><path d="M718.6 457.6C815.5 457.6 815.5 496.7 912.3 496.7"/><path d="M718.6 458.7C815.5 458.7 815.5 497.8 912.3 497.8"/><path d="M718.6 459.8C815.5 459.8 815.5 498.9 912.3 498.9"/><path d="M718.6 460.9C815.5 460.9 815.5 500.0 912.3 500.0"/><path d="M718.6 462.1C815.5 462.1 815.5 501.2 912.3 501.2"/><path d="M718.6 463.2C815.5 463.2 815.5 502.3 912.3 502.3"/><path d="M718.6 464.3C815.5 464.3 815.5 503.4 912.3 503.4"/><path d="M718.6 465.4C815.5 465.4 815.5 504.5 912.3 504.5"/><path d="M718.6 466.6C815.5 466.6 815.5 505.6 912.3 505.6"/><path d="M718.6 467.7C815.5 467.7 815.5 506.8 912.3 506.8"/><path d="M718.6 468.8C815.5 468.8 815.5 507.9 912.3 507.9"/><path d="M718.6 469.9C815.5 469.9 815.5 509.0 912.3 509.0"/><path d="M718.6 471.0C815.5 471.0 815.5 510.1 912.3 510.1"/></g>
<g stroke="#168F82" stroke-opacity="0.28" stroke-width="1.16"><path d="M718.6 472.2C815.5 472.2 815.5 552.6 912.3 552.6"/><path d="M718.6 473.3C815.5 473.3 815.5 553.7 912.3 553.7"/><path d="M718.6 474.5C815.5 474.5 815.5 554.9 912.3 554.9"/><path d="M718.6 475.6C815.5 475.6 815.5 556.1 912.3 556.1"/><path d="M718.6 476.8C815.5 476.8 815.5 557.2 912.3 557.2"/><path d="M718.6 478.0C815.5 478.0 815.5 558.4 912.3 558.4"/><path d="M718.6 479.1C815.5 479.1 815.5 559.5 912.3 559.5"/><path d="M718.6 480.3C815.5 480.3 815.5 560.7 912.3 560.7"/><path d="M718.6 481.4C815.5 481.4 815.5 561.8 912.3 561.8"/><path d="M718.6 482.6C815.5 482.6 815.5 563.0 912.3 563.0"/><path d="M718.6 483.7C815.5 483.7 815.5 564.1 912.3 564.1"/><path d="M718.6 484.9C815.5 484.9 815.5 565.3 912.3 565.3"/><path d="M718.6 486.0C815.5 486.0 815.5 566.5 912.3 566.5"/></g>
<g stroke="#168F82" stroke-opacity="0.28" stroke-width="1.23"><path d="M718.6 498.2C815.5 498.2 815.5 686.9 912.3 686.9"/><path d="M718.6 499.5C815.5 499.5 815.5 688.1 912.3 688.1"/><path d="M718.6 500.7C815.5 500.7 815.5 689.4 912.3 689.4"/><path d="M718.6 501.9C815.5 501.9 815.5 690.6 912.3 690.6"/><path d="M718.6 503.1C815.5 503.1 815.5 691.8 912.3 691.8"/><path d="M718.6 504.4C815.5 504.4 815.5 693.1 912.3 693.1"/><path d="M718.6 505.6C815.5 505.6 815.5 694.3 912.3 694.3"/></g>
<g stroke="#A18A8C" stroke-opacity="0.28" stroke-width="1.15"><path d="M718.6 510.5C815.5 510.5 815.5 457.6 912.3 457.6"/><path d="M718.6 511.6C815.5 511.6 815.5 458.8 912.3 458.8"/><path d="M718.6 512.8C815.5 512.8 815.5 459.9 912.3 459.9"/><path d="M718.6 513.9C815.5 513.9 815.5 461.1 912.3 461.1"/><path d="M718.6 515.1C815.5 515.1 815.5 462.2 912.3 462.2"/><path d="M718.6 516.2C815.5 516.2 815.5 463.4 912.3 463.4"/><path d="M718.6 517.4C815.5 517.4 815.5 464.5 912.3 464.5"/><path d="M718.6 518.5C815.5 518.5 815.5 465.7 912.3 465.7"/><path d="M718.6 519.7C815.5 519.7 815.5 466.8 912.3 466.8"/><path d="M718.6 520.8C815.5 520.8 815.5 468.0 912.3 468.0"/><path d="M718.6 522.0C815.5 522.0 815.5 469.1 912.3 469.1"/><path d="M718.6 523.1C815.5 523.1 815.5 470.3 912.3 470.3"/><path d="M718.6 524.3C815.5 524.3 815.5 471.4 912.3 471.4"/><path d="M718.6 525.4C815.5 525.4 815.5 472.6 912.3 472.6"/><path d="M718.6 526.6C815.5 526.6 815.5 511.3 912.3 511.3"/><path d="M718.6 527.7C815.5 527.7 815.5 512.4 912.3 512.4"/><path d="M718.6 528.9C815.5 528.9 815.5 513.6 912.3 513.6"/><path d="M718.6 530.0C815.5 530.0 815.5 514.7 912.3 514.7"/><path d="M718.6 531.2C815.5 531.2 815.5 515.9 912.3 515.9"/><path d="M718.6 532.3C815.5 532.3 815.5 517.0 912.3 517.0"/><path d="M718.6 533.5C815.5 533.5 815.5 518.2 912.3 518.2"/><path d="M718.6 534.6C815.5 534.6 815.5 519.3 912.3 519.3"/><path d="M718.6 535.8C815.5 535.8 815.5 520.5 912.3 520.5"/><path d="M718.6 536.9C815.5 536.9 815.5 521.6 912.3 521.6"/><path d="M718.6 538.1C815.5 538.1 815.5 522.8 912.3 522.8"/><path d="M718.6 539.2C815.5 539.2 815.5 523.9 912.3 523.9"/><path d="M718.6 540.4C815.5 540.4 815.5 525.1 912.3 525.1"/><path d="M718.6 541.5C815.5 541.5 815.5 526.2 912.3 526.2"/></g>
<g stroke="#A18A8C" stroke-opacity="0.28" stroke-width="1.13"><path d="M718.6 542.6C815.5 542.6 815.5 567.6 912.3 567.6"/><path d="M718.6 543.8C815.5 543.8 815.5 568.7 912.3 568.7"/><path d="M718.6 544.9C815.5 544.9 815.5 569.9 912.3 569.9"/><path d="M718.6 546.0C815.5 546.0 815.5 571.0 912.3 571.0"/><path d="M718.6 547.1C815.5 547.1 815.5 572.1 912.3 572.1"/><path d="M718.6 548.3C815.5 548.3 815.5 573.2 912.3 573.2"/><path d="M718.6 549.4C815.5 549.4 815.5 574.4 912.3 574.4"/><path d="M718.6 550.5C815.5 550.5 815.5 575.5 912.3 575.5"/><path d="M718.6 551.7C815.5 551.7 815.5 576.6 912.3 576.6"/><path d="M718.6 552.8C815.5 552.8 815.5 577.8 912.3 577.8"/><path d="M718.6 553.9C815.5 553.9 815.5 578.9 912.3 578.9"/><path d="M718.6 555.0C815.5 555.0 815.5 580.0 912.3 580.0"/><path d="M718.6 556.2C815.5 556.2 815.5 581.1 912.3 581.1"/><path d="M718.6 557.3C815.5 557.3 815.5 582.3 912.3 582.3"/><path d="M718.6 558.4C815.5 558.4 815.5 583.4 912.3 583.4"/><path d="M718.6 559.5C815.5 559.5 815.5 584.5 912.3 584.5"/><path d="M718.6 560.7C815.5 560.7 815.5 585.6 912.3 585.6"/><path d="M718.6 578.8C815.5 578.8 815.5 695.5 912.3 695.5"/><path d="M718.6 580.0C815.5 580.0 815.5 696.6 912.3 696.6"/><path d="M718.6 581.1C815.5 581.1 815.5 697.7 912.3 697.7"/><path d="M718.6 582.2C815.5 582.2 815.5 698.9 912.3 698.9"/><path d="M718.6 583.4C815.5 583.4 815.5 700.0 912.3 700.0"/><path d="M718.6 584.5C815.5 584.5 815.5 701.1 912.3 701.1"/><path d="M718.6 585.6C815.5 585.6 815.5 702.3 912.3 702.3"/><path d="M718.6 586.8C815.5 586.8 815.5 703.4 912.3 703.4"/><path d="M718.6 587.9C815.5 587.9 815.5 704.5 912.3 704.5"/><path d="M718.6 589.0C815.5 589.0 815.5 705.7 912.3 705.7"/><path d="M718.6 590.2C815.5 590.2 815.5 706.8 912.3 706.8"/><path d="M718.6 591.3C815.5 591.3 815.5 707.9 912.3 707.9"/><path d="M718.6 592.4C815.5 592.4 815.5 709.1 912.3 709.1"/></g>
<g stroke="#A18A8C" stroke-opacity="0.28" stroke-width="1.14"><path d="M718.6 561.8C815.5 561.8 815.5 644.9 912.3 644.9"/><path d="M718.6 562.9C815.5 562.9 815.5 646.0 912.3 646.0"/><path d="M718.6 564.1C815.5 564.1 815.5 647.2 912.3 647.2"/><path d="M718.6 565.2C815.5 565.2 815.5 648.3 912.3 648.3"/><path d="M718.6 566.3C815.5 566.3 815.5 649.4 912.3 649.4"/><path d="M718.6 567.5C815.5 567.5 815.5 650.6 912.3 650.6"/><path d="M718.6 568.6C815.5 568.6 815.5 651.7 912.3 651.7"/><path d="M718.6 569.8C815.5 569.8 815.5 652.9 912.3 652.9"/><path d="M718.6 570.9C815.5 570.9 815.5 654.0 912.3 654.0"/><path d="M718.6 572.0C815.5 572.0 815.5 655.1 912.3 655.1"/><path d="M718.6 573.2C815.5 573.2 815.5 656.3 912.3 656.3"/><path d="M718.6 574.3C815.5 574.3 815.5 657.4 912.3 657.4"/><path d="M718.6 575.4C815.5 575.4 815.5 658.5 912.3 658.5"/><path d="M718.6 576.6C815.5 576.6 815.5 659.7 912.3 659.7"/><path d="M718.6 577.7C815.5 577.7 815.5 660.8 912.3 660.8"/></g>
<g stroke="#2B3536" stroke-opacity="0.28" stroke-width="1.22"><path d="M718.6 597.7C815.5 597.7 815.5 473.8 912.3 473.8"/><path d="M718.6 598.9C815.5 598.9 815.5 475.0 912.3 475.0"/><path d="M718.6 600.2C815.5 600.2 815.5 476.2 912.3 476.2"/><path d="M718.6 601.4C815.5 601.4 815.5 477.5 912.3 477.5"/></g>
<g stroke="#2B3536" stroke-opacity="0.28" stroke-width="1.24"><path d="M718.6 602.6C815.5 602.6 815.5 527.4 912.3 527.4"/><path d="M718.6 603.8C815.5 603.8 815.5 528.7 912.3 528.7"/><path d="M718.6 605.1C815.5 605.1 815.5 529.9 912.3 529.9"/><path d="M718.6 606.3C815.5 606.3 815.5 531.2 912.3 531.2"/></g>
<g stroke="#2B3536" stroke-opacity="0.28" stroke-width="1.12"><path d="M718.6 607.5C815.5 607.5 815.5 586.8 912.3 586.8"/><path d="M718.6 608.6C815.5 608.6 815.5 587.9 912.3 587.9"/><path d="M718.6 609.8C815.5 609.8 815.5 589.0 912.3 589.0"/><path d="M718.6 610.9C815.5 610.9 815.5 590.1 912.3 590.1"/><path d="M718.6 612.0C815.5 612.0 815.5 591.3 912.3 591.3"/><path d="M718.6 613.1C815.5 613.1 815.5 592.4 912.3 592.4"/><path d="M718.6 614.2C815.5 614.2 815.5 662.0 912.3 662.0"/><path d="M718.6 615.4C815.5 615.4 815.5 663.1 912.3 663.1"/><path d="M718.6 616.5C815.5 616.5 815.5 664.2 912.3 664.2"/></g>
<g stroke="#2B3536" stroke-opacity="0.28" stroke-width="1.14"><path d="M718.6 617.6C815.5 617.6 815.5 710.2 912.3 710.2"/><path d="M718.6 618.7C815.5 618.7 815.5 711.3 912.3 711.3"/><path d="M718.6 619.9C815.5 619.9 815.5 712.5 912.3 712.5"/><path d="M718.6 621.0C815.5 621.0 815.5 713.6 912.3 713.6"/><path d="M718.6 622.2C815.5 622.2 815.5 714.8 912.3 714.8"/><path d="M718.6 623.3C815.5 623.3 815.5 715.9 912.3 715.9"/><path d="M718.6 624.4C815.5 624.4 815.5 717.0 912.3 717.0"/></g>
<g stroke="#C5444B" stroke-opacity="0.28" stroke-width="1.16"><path d="M718.6 646.7C815.5 646.7 815.5 478.6 912.3 478.6"/><path d="M718.6 647.8C815.5 647.8 815.5 479.8 912.3 479.8"/><path d="M718.6 649.0C815.5 649.0 815.5 481.0 912.3 481.0"/><path d="M718.6 650.2C815.5 650.2 815.5 482.1 912.3 482.1"/><path d="M718.6 651.3C815.5 651.3 815.5 483.3 912.3 483.3"/><path d="M718.6 652.5C815.5 652.5 815.5 484.4 912.3 484.4"/><path d="M718.6 653.6C815.5 653.6 815.5 485.6 912.3 485.6"/></g>
<g stroke="#C5444B" stroke-opacity="0.28" stroke-width="1.13"><path d="M718.6 654.8C815.5 654.8 815.5 532.3 912.3 532.3"/><path d="M718.6 655.9C815.5 655.9 815.5 533.5 912.3 533.5"/><path d="M718.6 657.0C815.5 657.0 815.5 534.6 912.3 534.6"/><path d="M718.6 658.2C815.5 658.2 815.5 535.7 912.3 535.7"/><path d="M718.6 659.3C815.5 659.3 815.5 536.9 912.3 536.9"/><path d="M718.6 660.4C815.5 660.4 815.5 538.0 912.3 538.0"/><path d="M718.6 661.6C815.5 661.6 815.5 539.1 912.3 539.1"/><path d="M718.6 662.7C815.5 662.7 815.5 540.3 912.3 540.3"/><path d="M718.6 674.6C815.5 674.6 815.5 665.3 912.3 665.3"/><path d="M718.6 675.8C815.5 675.8 815.5 666.4 912.3 666.4"/><path d="M718.6 676.9C815.5 676.9 815.5 667.6 912.3 667.6"/><path d="M718.6 678.0C815.5 678.0 815.5 668.7 912.3 668.7"/><path d="M718.6 679.1C815.5 679.1 815.5 669.8 912.3 669.8"/><path d="M718.6 680.3C815.5 680.3 815.5 671.0 912.3 671.0"/><path d="M718.6 681.4C815.5 681.4 815.5 672.1 912.3 672.1"/><path d="M718.6 682.5C815.5 682.5 815.5 673.2 912.3 673.2"/><path d="M718.6 683.7C815.5 683.7 815.5 674.3 912.3 674.3"/></g>
<g stroke="#C5444B" stroke-opacity="0.28" stroke-width="1.2"><path d="M718.6 663.9C815.5 663.9 815.5 593.6 912.3 593.6"/><path d="M718.6 665.1C815.5 665.1 815.5 594.8 912.3 594.8"/><path d="M718.6 666.3C815.5 666.3 815.5 596.0 912.3 596.0"/><path d="M718.6 667.5C815.5 667.5 815.5 597.2 912.3 597.2"/><path d="M718.6 668.7C815.5 668.7 815.5 598.4 912.3 598.4"/><path d="M718.6 669.9C815.5 669.9 815.5 599.6 912.3 599.6"/><path d="M718.6 671.1C815.5 671.1 815.5 600.8 912.3 600.8"/><path d="M718.6 672.3C815.5 672.3 815.5 602.0 912.3 602.0"/><path d="M718.6 673.5C815.5 673.5 815.5 603.2 912.3 603.2"/></g>
<g stroke="#C5444B" stroke-opacity="0.28" stroke-width="1.1"><path d="M718.6 684.8C815.5 684.8 815.5 718.2 912.3 718.2"/><path d="M718.6 685.9C815.5 685.9 815.5 719.3 912.3 719.3"/><path d="M718.6 687.0C815.5 687.0 815.5 720.4 912.3 720.4"/><path d="M718.6 688.1C815.5 688.1 815.5 721.5 912.3 721.5"/><path d="M718.6 689.2C815.5 689.2 815.5 722.6 912.3 722.6"/><path d="M718.6 690.3C815.5 690.3 815.5 723.7 912.3 723.7"/><path d="M718.6 691.4C815.5 691.4 815.5 724.8 912.3 724.8"/><path d="M718.6 692.5C815.5 692.5 815.5 725.9 912.3 725.9"/><path d="M718.6 693.6C815.5 693.6 815.5 727.0 912.3 727.0"/><path d="M718.6 694.7C815.5 694.7 815.5 728.1 912.3 728.1"/></g>
<g stroke="#B8962B" stroke-opacity="0.28" stroke-width="1.24"><path d="M718.6 699.7C815.5 699.7 815.5 486.8 912.3 486.8"/><path d="M718.6 701.0C815.5 701.0 815.5 488.1 912.3 488.1"/><path d="M718.6 702.2C815.5 702.2 815.5 489.3 912.3 489.3"/><path d="M718.6 703.4C815.5 703.4 815.5 490.5 912.3 490.5"/><path d="M718.6 704.7C815.5 704.7 815.5 491.8 912.3 491.8"/></g>
<g stroke="#B8962B" stroke-opacity="0.28" stroke-width="1.17"><path d="M718.6 705.9C815.5 705.9 815.5 541.4 912.3 541.4"/><path d="M718.6 707.1C815.5 707.1 815.5 542.6 912.3 542.6"/><path d="M718.6 708.2C815.5 708.2 815.5 543.8 912.3 543.8"/><path d="M718.6 709.4C815.5 709.4 815.5 545.0 912.3 545.0"/><path d="M718.6 710.6C815.5 710.6 815.5 546.1 912.3 546.1"/><path d="M718.6 711.8C815.5 711.8 815.5 547.3 912.3 547.3"/></g>
<g stroke="#B8962B" stroke-opacity="0.28" stroke-width="1.23"><path d="M718.6 713.0C815.5 713.0 815.5 604.4 912.3 604.4"/><path d="M718.6 714.2C815.5 714.2 815.5 605.6 912.3 605.6"/><path d="M718.6 715.4C815.5 715.4 815.5 606.9 912.3 606.9"/><path d="M718.6 716.6C815.5 716.6 815.5 608.1 912.3 608.1"/><path d="M718.6 717.9C815.5 717.9 815.5 609.3 912.3 609.3"/><path d="M718.6 719.1C815.5 719.1 815.5 610.6 912.3 610.6"/><path d="M718.6 720.3C815.5 720.3 815.5 611.8 912.3 611.8"/></g>
<g stroke="#B8962B" stroke-opacity="0.28" stroke-width="1.1"><path d="M718.6 721.5C815.5 721.5 815.5 675.5 912.3 675.5"/><path d="M718.6 722.6C815.5 722.6 815.5 676.6 912.3 676.6"/><path d="M718.6 723.7C815.5 723.7 815.5 677.7 912.3 677.7"/><path d="M718.6 724.8C815.5 724.8 815.5 678.8 912.3 678.8"/><path d="M718.6 725.9C815.5 725.9 815.5 679.8 912.3 679.8"/><path d="M718.6 727.0C815.5 727.0 815.5 680.9 912.3 680.9"/><path d="M718.6 728.1C815.5 728.1 815.5 682.0 912.3 682.0"/></g>
<g stroke="#B8962B" stroke-opacity="0.28" stroke-width="1.11"><path d="M718.6 729.2H912.3"/><path d="M718.6 730.3H912.3"/><path d="M718.6 731.4H912.3"/><path d="M718.6 732.5H912.3"/><path d="M718.6 733.6H912.3"/><path d="M718.6 734.7H912.3"/></g>
</g>
<rect x="110.0" y="446.0" width="7.1" height="88.1" fill="#005EB8"/>
<rect x="110.0" y="538.3" width="7.1" height="69.1" fill="#00AACC"/>
<rect x="110.0" y="611.9" width="7.1" height="53.3" fill="#E9EFF0"/>
<rect x="110.0" y="668.9" width="7.1" height="46.0" fill="#00A08F"/>
<rect x="310.7" y="446.0" width="6.9" height="60.8" fill="#FDB515"/>
<rect x="310.7" y="510.2" width="6.9" height="17.8" fill="#FF8080"/>
<rect x="310.7" y="531.8" width="6.9" height="15.0" fill="#42C2B3"/>
<rect x="310.7" y="550.9" width="6.9" height="15.8" fill="#F5D255"/>
<rect x="310.7" y="570.2" width="6.9" height="15.5" fill="#E2C0C0"/>
<rect x="310.7" y="589.5" width="6.9" height="18.6" fill="#3192BA"/>
<rect x="310.7" y="612.2" width="6.9" height="16.0" fill="#5F6868"/>
<rect x="310.7" y="632.1" width="6.9" height="16.7" fill="#6F7780"/>
<rect x="310.7" y="652.9" width="6.9" height="27.4" fill="#002878"/>
<rect x="511.2" y="446.0" width="6.7" height="145.9" fill="#A3D9EF"/>
<rect x="511.2" y="595.9" width="6.7" height="62.1" fill="#7D8686"/>
<rect x="511.2" y="662.0" width="6.7" height="14.6" fill="#1F6F8B"/>
<rect x="511.2" y="695.6" width="6.7" height="16.1" fill="#FFA080"/>
<rect x="511.2" y="717.9" width="6.7" height="17.3" fill="#B07EB0"/>
<rect x="711.9" y="446.0" width="6.7" height="60.2" fill="#168F82"/>
<rect x="711.9" y="509.9" width="6.7" height="83.1" fill="#A18A8C"/>
<rect x="711.9" y="597.1" width="6.7" height="27.9" fill="#2B3536"/>
<rect x="711.9" y="646.1" width="6.7" height="49.1" fill="#C5444B"/>
<rect x="711.9" y="699.1" width="6.7" height="36.2" fill="#B8962B"/>
<rect x="912.3" y="446.0" width="6.7" height="46.4" fill="#C0714D"/>
<rect x="912.3" y="496.1" width="6.7" height="51.8" fill="#114B5A"/>
<rect x="912.3" y="552.0" width="6.7" height="60.4" fill="#474F50"/>
<rect x="912.3" y="633.3" width="6.7" height="49.3" fill="#609FB7"/>
<rect x="912.3" y="686.3" width="6.7" height="49.0" fill="#7D4A76"/>
<text x="110.3" y="443.2" font-size="10" fill="#000" stroke="#000" stroke-width="0.2">State</text>
<text x="314.3" y="443.2" font-size="10" text-anchor="middle" fill="#000" stroke="#000" stroke-width="0.2">City</text>
<text x="514.5" y="443.2" font-size="10" text-anchor="middle" fill="#000" stroke="#000" stroke-width="0.2">Diagnosis</text>
<text x="715.2" y="443.2" font-size="10" text-anchor="middle" fill="#000" stroke="#000" stroke-width="0.2">Procedure</text>
<text x="919" y="443.2" font-size="10" text-anchor="end" fill="#000" stroke="#000" stroke-width="0.2">Race</text>
<g style="filter:drop-shadow(0 0 .7px #fff) drop-shadow(0 0 .7px #fff)">
<text x="121.2" y="493.9" font-size="8.16" fill="#222" stroke="#222" stroke-width="0.18">Wales (598,276) 34%</text>
<text x="121.2" y="576.7" font-size="8.16" fill="#222" stroke="#222" stroke-width="0.18">England (471,526) 27%</text>
<text x="121.2" y="642.4" font-size="8.16" fill="#222" stroke="#222" stroke-width="0.18">Northern Ireland (365,244) 21%</text>
<text x="121.2" y="695.8" font-size="8.16" fill="#222" stroke="#222" stroke-width="0.18">Scotland (309,725) 18%</text>
<text x="321.7" y="480.3" font-size="8.16" fill="#222" stroke="#222" stroke-width="0.18">Edinburgh (410,589) 24%</text>
<text x="321.7" y="523.0" font-size="8.16" fill="#222" stroke="#222" stroke-width="0.18">Leeds (120,807) 7%</text>
<text x="321.7" y="543.2" font-size="8.16" fill="#222" stroke="#222" stroke-width="0.18">Newcastle (105,404) 6%</text>
<text x="321.7" y="562.7" font-size="8.16" fill="#222" stroke="#222" stroke-width="0.18">Liverpool (108,641) 6%</text>
<text x="321.7" y="581.9" font-size="8.16" fill="#222" stroke="#222" stroke-width="0.18">Manchester (106,194) 6%</text>
<text x="321.7" y="602.7" font-size="8.16" fill="#222" stroke="#222" stroke-width="0.18">Glasgow (129,354) 7%</text>
<text x="321.7" y="624.1" font-size="8.16" fill="#222" stroke="#222" stroke-width="0.18">London (112,109) 6%</text>
<text x="321.7" y="644.4" font-size="8.16" fill="#222" stroke="#222" stroke-width="0.18">Bristol (115,487) 7%</text>
<text x="321.7" y="670.5" font-size="8.16" fill="#222" stroke="#222" stroke-width="0.18">Birmingham (189,031) 11%</text>
<text x="321.7" y="713.1" font-size="8.16" fill="#222" stroke="#222" stroke-width="0.18">Sheffield (347,155) 20%</text>
<text x="522.0" y="522.9" font-size="8.16" fill="#222" stroke="#222" stroke-width="0.18">Hypertension (986,841) 57%</text>
<text x="522.0" y="630.9" font-size="8.16" fill="#222" stroke="#222" stroke-width="0.18">Appendicitis (423,404) 24%</text>
<text x="522.0" y="673.2" font-size="8.16" fill="#222" stroke="#222" stroke-width="0.18">Fracture (101,581) 6%</text>
<text x="522.0" y="707.6" font-size="8.16" fill="#222" stroke="#222" stroke-width="0.18">Asthma (112,920) 6%</text>
<text x="522.0" y="730.4" font-size="8.16" fill="#222" stroke="#222" stroke-width="0.18">Migraine (120,025) 7%</text>
<text x="707.2" y="480.0" font-size="8.16" text-anchor="end" fill="#222" stroke="#222" stroke-width="0.18">X-Ray (408,521) 23%</text>
<text x="707.2" y="555.4" font-size="8.16" text-anchor="end" fill="#222" stroke="#222" stroke-width="0.18">CT Scan (563,632) 32%</text>
<text x="707.2" y="614.9" font-size="8.16" text-anchor="end" fill="#222" stroke="#222" stroke-width="0.18">Blood Test (192,926) 11%</text>
<text x="707.2" y="674.6" font-size="8.16" text-anchor="end" fill="#222" stroke="#222" stroke-width="0.18">MRI Scan (334,200) 19%</text>
<text x="707.2" y="721.1" font-size="8.16" text-anchor="end" fill="#222" stroke="#222" stroke-width="0.18">Ultrasound (245,492) 14%</text>
<text x="907.6" y="473.1" font-size="8.16" text-anchor="end" fill="#222" stroke="#222" stroke-width="0.18">Other (314,679) 18%</text>
<text x="907.6" y="525.9" font-size="8.16" text-anchor="end" fill="#222" stroke="#222" stroke-width="0.18">Asian (353,093) 20%</text>
<text x="907.6" y="586.1" font-size="8.16" text-anchor="end" fill="#222" stroke="#222" stroke-width="0.18">Black (410,881) 24%</text>
<text x="907.6" y="661.9" font-size="8.16" text-anchor="end" fill="#222" stroke="#222" stroke-width="0.18">Hispanic (333,463) 19%</text>
<text x="907.6" y="714.7" font-size="8.16" text-anchor="end" fill="#222" stroke="#222" stroke-width="0.18">White (332,655) 19%</text>
</g>
</svg>
</body></html>
